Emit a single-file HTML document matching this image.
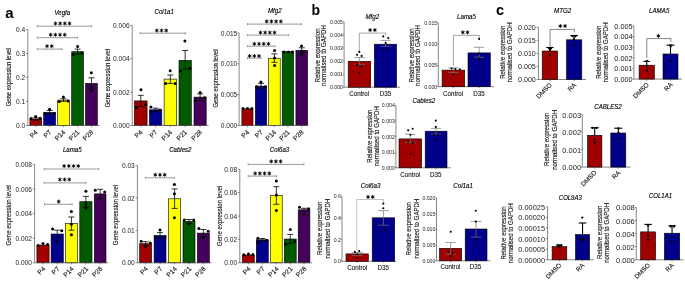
<!DOCTYPE html>
<html><head><meta charset="utf-8"><style>
html,body{margin:0;padding:0;background:#fff;width:685px;height:284px;overflow:hidden}
svg{display:block;will-change:transform}
text{font-family:"Liberation Sans", sans-serif}
</style></head><body>
<svg width="685" height="284" viewBox="0 0 685 284">
<rect width="685" height="284" fill="#fff"/>
<text x="5.3" y="17.8" font-size="15" text-anchor="start" font-weight="bold" font-style="normal" fill="#000">a</text>
<text x="311.6" y="15.4" font-size="14" text-anchor="start" font-weight="bold" font-style="normal" fill="#000">b</text>
<text x="496.1" y="14.7" font-size="14.5" text-anchor="start" font-weight="bold" font-style="normal" fill="#000">c</text>
<text x="0" y="0" font-size="6.1" text-anchor="middle" font-weight="normal" font-style="italic" fill="#000" transform="translate(62.3 14.5) scale(1 1.12)" stroke="#000" stroke-width="0.12">Vegfa</text>
<text x="0" y="0" font-size="5.9" text-anchor="middle" font-weight="normal" font-style="normal" fill="#222" transform="translate(11.2 77.2) rotate(-90) scale(1 1.12)" stroke="#222" stroke-width="0.12">Gene expression level</text>
<line x1="27.8" y1="29.5" x2="27.8" y2="125.5" stroke="#555" stroke-width="0.7"/>
<line x1="26.0" y1="125.5" x2="27.8" y2="125.5" stroke="#555" stroke-width="0.7"/>
<text x="25.2" y="128.14" font-size="6.6" text-anchor="end" font-weight="normal" font-style="normal" fill="#222">0.0</text>
<line x1="26.0" y1="101.5" x2="27.8" y2="101.5" stroke="#555" stroke-width="0.7"/>
<text x="25.2" y="104.14" font-size="6.6" text-anchor="end" font-weight="normal" font-style="normal" fill="#222">0.1</text>
<line x1="26.0" y1="77.5" x2="27.8" y2="77.5" stroke="#555" stroke-width="0.7"/>
<text x="25.2" y="80.14" font-size="6.6" text-anchor="end" font-weight="normal" font-style="normal" fill="#222">0.2</text>
<line x1="26.0" y1="53.5" x2="27.8" y2="53.5" stroke="#555" stroke-width="0.7"/>
<text x="25.2" y="56.14" font-size="6.6" text-anchor="end" font-weight="normal" font-style="normal" fill="#222">0.3</text>
<line x1="26.0" y1="29.5" x2="27.8" y2="29.5" stroke="#555" stroke-width="0.7"/>
<text x="25.2" y="32.14" font-size="6.6" text-anchor="end" font-weight="normal" font-style="normal" fill="#222">0.4</text>
<rect x="29.9" y="119.0" width="11.8" height="6.5" fill="#a00000" stroke="#000" stroke-width="0.6"/>
<line x1="35.8" y1="117.8" x2="35.8" y2="120.2" stroke="#000" stroke-width="0.8"/>
<line x1="32.8" y1="117.8" x2="38.8" y2="117.8" stroke="#000" stroke-width="0.8"/>
<line x1="32.8" y1="120.2" x2="38.8" y2="120.2" stroke="#000" stroke-width="0.8"/>
<circle cx="31.1" cy="118.5" r="1.5" fill="#000"/>
<circle cx="35.6" cy="116.5" r="1.5" fill="#000"/>
<circle cx="40.2" cy="118.3" r="1.5" fill="#000"/>
<rect x="43.7" y="112.4" width="11.9" height="13.1" fill="#00008b" stroke="#000" stroke-width="0.6"/>
<line x1="49.65" y1="110.5" x2="49.65" y2="114.3" stroke="#000" stroke-width="0.8"/>
<line x1="46.65" y1="110.5" x2="52.65" y2="110.5" stroke="#000" stroke-width="0.8"/>
<line x1="46.65" y1="114.3" x2="52.65" y2="114.3" stroke="#000" stroke-width="0.8"/>
<circle cx="45.2" cy="113.5" r="1.5" fill="#000"/>
<circle cx="49.6" cy="109.3" r="1.5" fill="#000"/>
<circle cx="54.2" cy="113.5" r="1.5" fill="#000"/>
<rect x="57.7" y="100.1" width="11.6" height="25.4" fill="#ffff00" stroke="#000" stroke-width="0.6"/>
<line x1="63.5" y1="98.8" x2="63.5" y2="101.4" stroke="#000" stroke-width="0.8"/>
<line x1="60.5" y1="98.8" x2="66.5" y2="98.8" stroke="#000" stroke-width="0.8"/>
<line x1="60.5" y1="101.4" x2="66.5" y2="101.4" stroke="#000" stroke-width="0.8"/>
<circle cx="59.3" cy="101.4" r="1.5" fill="#000"/>
<circle cx="63.4" cy="97.1" r="1.5" fill="#000"/>
<circle cx="68.0" cy="101.1" r="1.5" fill="#000"/>
<rect x="71.7" y="51.7" width="11.8" height="73.8" fill="#005a00" stroke="#000" stroke-width="0.6"/>
<line x1="77.6" y1="49.1" x2="77.6" y2="54.3" stroke="#000" stroke-width="0.8"/>
<line x1="74.6" y1="49.1" x2="80.6" y2="49.1" stroke="#000" stroke-width="0.8"/>
<line x1="74.6" y1="54.3" x2="80.6" y2="54.3" stroke="#000" stroke-width="0.8"/>
<circle cx="73.3" cy="54.5" r="1.5" fill="#000"/>
<circle cx="77.6" cy="46.6" r="1.5" fill="#000"/>
<circle cx="81.9" cy="53.0" r="1.5" fill="#000"/>
<rect x="85.5" y="83.4" width="11.9" height="42.1" fill="#44005a" stroke="#000" stroke-width="0.6"/>
<line x1="91.45" y1="77.8" x2="91.45" y2="89.0" stroke="#000" stroke-width="0.8"/>
<line x1="88.45" y1="77.8" x2="94.45" y2="77.8" stroke="#000" stroke-width="0.8"/>
<line x1="88.45" y1="89.0" x2="94.45" y2="89.0" stroke="#000" stroke-width="0.8"/>
<circle cx="91.3" cy="72.7" r="1.5" fill="#000"/>
<circle cx="91.5" cy="86.4" r="1.5" fill="#000"/>
<circle cx="91.5" cy="91.0" r="1.5" fill="#000"/>
<line x1="27.8" y1="125.5" x2="99.4" y2="125.5" stroke="#555" stroke-width="0.7"/>
<line x1="35.8" y1="125.5" x2="35.8" y2="127.1" stroke="#555" stroke-width="0.7"/>
<line x1="49.65" y1="125.5" x2="49.65" y2="127.1" stroke="#555" stroke-width="0.7"/>
<line x1="63.5" y1="125.5" x2="63.5" y2="127.1" stroke="#555" stroke-width="0.7"/>
<line x1="77.6" y1="125.5" x2="77.6" y2="127.1" stroke="#555" stroke-width="0.7"/>
<line x1="91.45" y1="125.5" x2="91.45" y2="127.1" stroke="#555" stroke-width="0.7"/>
<text x="38.1" y="132.6" font-size="6.6" text-anchor="end" font-weight="normal" font-style="normal" fill="#222" transform="rotate(-45 38.1 132.6)" stroke="#222" stroke-width="0.15">P4</text>
<text x="51.95" y="132.6" font-size="6.6" text-anchor="end" font-weight="normal" font-style="normal" fill="#222" transform="rotate(-45 51.95 132.6)" stroke="#222" stroke-width="0.15">P7</text>
<text x="65.8" y="132.6" font-size="6.6" text-anchor="end" font-weight="normal" font-style="normal" fill="#222" transform="rotate(-45 65.8 132.6)" stroke="#222" stroke-width="0.15">P14</text>
<text x="79.9" y="132.6" font-size="6.6" text-anchor="end" font-weight="normal" font-style="normal" fill="#222" transform="rotate(-45 79.9 132.6)" stroke="#222" stroke-width="0.15">P21</text>
<text x="93.75" y="132.6" font-size="6.6" text-anchor="end" font-weight="normal" font-style="normal" fill="#222" transform="rotate(-45 93.75 132.6)" stroke="#222" stroke-width="0.15">P28</text>
<line x1="37.3" y1="26.2" x2="91.6" y2="26.2" stroke="#808080" stroke-width="0.8"/>
<line x1="37.3" y1="25.2" x2="37.3" y2="27.2" stroke="#808080" stroke-width="0.8"/>
<line x1="91.6" y1="25.2" x2="91.6" y2="27.2" stroke="#808080" stroke-width="0.8"/>
<path d="M55.45 21.85L55.45 25.15M54.02 22.68L56.88 24.32M54.02 24.32L56.88 22.68" stroke="#111" stroke-width="0.85" stroke-linecap="round" fill="none"/>
<circle cx="55.45" cy="23.5" r="1.0" fill="#000"/>
<path d="M60.15 21.85L60.15 25.15M58.72 22.68L61.58 24.32M58.72 24.32L61.58 22.68" stroke="#111" stroke-width="0.85" stroke-linecap="round" fill="none"/>
<circle cx="60.15" cy="23.5" r="1.0" fill="#000"/>
<path d="M64.85 21.85L64.85 25.15M63.42 22.68L66.28 24.32M63.42 24.32L66.28 22.68" stroke="#111" stroke-width="0.85" stroke-linecap="round" fill="none"/>
<circle cx="64.85" cy="23.5" r="1.0" fill="#000"/>
<path d="M69.55 21.85L69.55 25.15M68.12 22.68L70.98 24.32M68.12 24.32L70.98 22.68" stroke="#111" stroke-width="0.85" stroke-linecap="round" fill="none"/>
<circle cx="69.55" cy="23.5" r="1.0" fill="#000"/>
<line x1="37.3" y1="37.7" x2="77.5" y2="37.7" stroke="#808080" stroke-width="0.8"/>
<line x1="37.3" y1="36.7" x2="37.3" y2="38.7" stroke="#808080" stroke-width="0.8"/>
<line x1="77.5" y1="36.7" x2="77.5" y2="38.7" stroke="#808080" stroke-width="0.8"/>
<path d="M50.65 33.05L50.65 36.35M49.22 33.88L52.08 35.53M49.22 35.53L52.08 33.88" stroke="#111" stroke-width="0.85" stroke-linecap="round" fill="none"/>
<circle cx="50.65" cy="34.7" r="1.0" fill="#000"/>
<path d="M55.35 33.05L55.35 36.35M53.92 33.88L56.78 35.53M53.92 35.53L56.78 33.88" stroke="#111" stroke-width="0.85" stroke-linecap="round" fill="none"/>
<circle cx="55.35" cy="34.7" r="1.0" fill="#000"/>
<path d="M60.05 33.05L60.05 36.35M58.62 33.88L61.48 35.53M58.62 35.53L61.48 33.88" stroke="#111" stroke-width="0.85" stroke-linecap="round" fill="none"/>
<circle cx="60.05" cy="34.7" r="1.0" fill="#000"/>
<path d="M64.75 33.05L64.75 36.35M63.32 33.88L66.18 35.53M63.32 35.53L66.18 33.88" stroke="#111" stroke-width="0.85" stroke-linecap="round" fill="none"/>
<circle cx="64.75" cy="34.7" r="1.0" fill="#000"/>
<line x1="37.3" y1="49.1" x2="62.1" y2="49.1" stroke="#808080" stroke-width="0.8"/>
<line x1="37.3" y1="48.1" x2="37.3" y2="50.1" stroke="#808080" stroke-width="0.8"/>
<line x1="62.1" y1="48.1" x2="62.1" y2="50.1" stroke="#808080" stroke-width="0.8"/>
<path d="M47.05 44.55L47.05 47.85M45.62 45.38L48.48 47.03M45.62 47.03L48.48 45.38" stroke="#111" stroke-width="0.85" stroke-linecap="round" fill="none"/>
<circle cx="47.05" cy="46.2" r="1.0" fill="#000"/>
<path d="M51.75 44.55L51.75 47.85M50.32 45.38L53.18 47.03M50.32 47.03L53.18 45.38" stroke="#111" stroke-width="0.85" stroke-linecap="round" fill="none"/>
<circle cx="51.75" cy="46.2" r="1.0" fill="#000"/>
<text x="0" y="0" font-size="6.1" text-anchor="middle" font-weight="normal" font-style="italic" fill="#000" transform="translate(164.2 13.8) scale(1 1.12)" stroke="#000" stroke-width="0.12">Col1a1</text>
<text x="0" y="0" font-size="5.9" text-anchor="middle" font-weight="normal" font-style="normal" fill="#222" transform="translate(109.7 78.1) rotate(-90) scale(1 1.12)" stroke="#222" stroke-width="0.12">Gene expression level</text>
<line x1="132.2" y1="25.3" x2="132.2" y2="125.5" stroke="#555" stroke-width="0.7"/>
<line x1="130.4" y1="125.5" x2="132.2" y2="125.5" stroke="#555" stroke-width="0.7"/>
<text x="129.6" y="128.14" font-size="6.6" text-anchor="end" font-weight="normal" font-style="normal" fill="#222">0.000</text>
<line x1="130.4" y1="92.1" x2="132.2" y2="92.1" stroke="#555" stroke-width="0.7"/>
<text x="129.6" y="94.74" font-size="6.6" text-anchor="end" font-weight="normal" font-style="normal" fill="#222">0.002</text>
<line x1="130.4" y1="58.7" x2="132.2" y2="58.7" stroke="#555" stroke-width="0.7"/>
<text x="129.6" y="61.34" font-size="6.6" text-anchor="end" font-weight="normal" font-style="normal" fill="#222">0.004</text>
<line x1="130.4" y1="25.3" x2="132.2" y2="25.3" stroke="#555" stroke-width="0.7"/>
<text x="129.6" y="27.94" font-size="6.6" text-anchor="end" font-weight="normal" font-style="normal" fill="#222">0.006</text>
<rect x="134.4" y="100.9" width="12.7" height="24.6" fill="#a00000" stroke="#000" stroke-width="0.6"/>
<line x1="140.75" y1="95.3" x2="140.75" y2="106.5" stroke="#000" stroke-width="0.8"/>
<line x1="137.75" y1="95.3" x2="143.75" y2="95.3" stroke="#000" stroke-width="0.8"/>
<line x1="137.75" y1="106.5" x2="143.75" y2="106.5" stroke="#000" stroke-width="0.8"/>
<circle cx="141" cy="89.8" r="1.5" fill="#000"/>
<circle cx="136.2" cy="107.5" r="1.5" fill="#000"/>
<circle cx="145.5" cy="104.7" r="1.5" fill="#000"/>
<rect x="149.4" y="109.8" width="12.4" height="15.7" fill="#00008b" stroke="#000" stroke-width="0.6"/>
<line x1="155.6" y1="108.2" x2="155.6" y2="111.4" stroke="#000" stroke-width="0.8"/>
<line x1="152.6" y1="108.2" x2="158.6" y2="108.2" stroke="#000" stroke-width="0.8"/>
<line x1="152.6" y1="111.4" x2="158.6" y2="111.4" stroke="#000" stroke-width="0.8"/>
<circle cx="150.9" cy="107" r="1.5" fill="#000"/>
<circle cx="151.1" cy="111.8" r="1.5" fill="#000"/>
<circle cx="160" cy="110" r="1.5" fill="#000"/>
<rect x="164.1" y="79.1" width="12.5" height="46.4" fill="#ffff00" stroke="#000" stroke-width="0.6"/>
<line x1="170.35" y1="75" x2="170.35" y2="83.4" stroke="#000" stroke-width="0.8"/>
<line x1="167.35" y1="75" x2="173.35" y2="75" stroke="#000" stroke-width="0.8"/>
<line x1="167.35" y1="83.4" x2="173.35" y2="83.4" stroke="#000" stroke-width="0.8"/>
<circle cx="170.2" cy="70.7" r="1.5" fill="#000"/>
<circle cx="165.6" cy="83.4" r="1.5" fill="#000"/>
<circle cx="175.2" cy="83.4" r="1.5" fill="#000"/>
<rect x="179.0" y="60.3" width="12.3" height="65.2" fill="#005a00" stroke="#000" stroke-width="0.6"/>
<line x1="185.15" y1="50.5" x2="185.15" y2="69.2" stroke="#000" stroke-width="0.8"/>
<line x1="182.15" y1="50.5" x2="188.15" y2="50.5" stroke="#000" stroke-width="0.8"/>
<line x1="182.15" y1="69.2" x2="188.15" y2="69.2" stroke="#000" stroke-width="0.8"/>
<circle cx="184.9" cy="41.1" r="1.5" fill="#000"/>
<circle cx="180.3" cy="71" r="1.5" fill="#000"/>
<circle cx="190" cy="68.4" r="1.5" fill="#000"/>
<rect x="194.0" y="97.1" width="12.2" height="28.4" fill="#44005a" stroke="#000" stroke-width="0.6"/>
<line x1="200.1" y1="93.8" x2="200.1" y2="100.4" stroke="#000" stroke-width="0.8"/>
<line x1="197.1" y1="93.8" x2="203.1" y2="93.8" stroke="#000" stroke-width="0.8"/>
<line x1="197.1" y1="100.4" x2="203.1" y2="100.4" stroke="#000" stroke-width="0.8"/>
<circle cx="200.1" cy="92.5" r="1.5" fill="#000"/>
<circle cx="195.3" cy="100.4" r="1.5" fill="#000"/>
<circle cx="204.7" cy="97.8" r="1.5" fill="#000"/>
<line x1="132.2" y1="125.5" x2="208.5" y2="125.5" stroke="#555" stroke-width="0.7"/>
<line x1="140.75" y1="125.5" x2="140.75" y2="127.1" stroke="#555" stroke-width="0.7"/>
<line x1="155.6" y1="125.5" x2="155.6" y2="127.1" stroke="#555" stroke-width="0.7"/>
<line x1="170.35" y1="125.5" x2="170.35" y2="127.1" stroke="#555" stroke-width="0.7"/>
<line x1="185.15" y1="125.5" x2="185.15" y2="127.1" stroke="#555" stroke-width="0.7"/>
<line x1="200.1" y1="125.5" x2="200.1" y2="127.1" stroke="#555" stroke-width="0.7"/>
<text x="143.05" y="132.6" font-size="6.6" text-anchor="end" font-weight="normal" font-style="normal" fill="#222" transform="rotate(-45 143.05 132.6)" stroke="#222" stroke-width="0.15">P4</text>
<text x="157.9" y="132.6" font-size="6.6" text-anchor="end" font-weight="normal" font-style="normal" fill="#222" transform="rotate(-45 157.9 132.6)" stroke="#222" stroke-width="0.15">P7</text>
<text x="172.65" y="132.6" font-size="6.6" text-anchor="end" font-weight="normal" font-style="normal" fill="#222" transform="rotate(-45 172.65 132.6)" stroke="#222" stroke-width="0.15">P14</text>
<text x="187.45" y="132.6" font-size="6.6" text-anchor="end" font-weight="normal" font-style="normal" fill="#222" transform="rotate(-45 187.45 132.6)" stroke="#222" stroke-width="0.15">P21</text>
<text x="202.4" y="132.6" font-size="6.6" text-anchor="end" font-weight="normal" font-style="normal" fill="#222" transform="rotate(-45 202.4 132.6)" stroke="#222" stroke-width="0.15">P28</text>
<line x1="140.2" y1="33.2" x2="185.4" y2="33.2" stroke="#808080" stroke-width="0.8"/>
<line x1="140.2" y1="32.2" x2="140.2" y2="34.2" stroke="#808080" stroke-width="0.8"/>
<line x1="185.4" y1="32.2" x2="185.4" y2="34.2" stroke="#808080" stroke-width="0.8"/>
<path d="M156.8 28.85L156.8 32.15M155.37 29.68L158.23 31.32M155.37 31.32L158.23 29.68" stroke="#111" stroke-width="0.85" stroke-linecap="round" fill="none"/>
<circle cx="156.8" cy="30.5" r="1.0" fill="#000"/>
<path d="M161.5 28.85L161.5 32.15M160.07 29.68L162.93 31.32M160.07 31.32L162.93 29.68" stroke="#111" stroke-width="0.85" stroke-linecap="round" fill="none"/>
<circle cx="161.5" cy="30.5" r="1.0" fill="#000"/>
<path d="M166.2 28.85L166.2 32.15M164.77 29.68L167.63 31.32M164.77 31.32L167.63 29.68" stroke="#111" stroke-width="0.85" stroke-linecap="round" fill="none"/>
<circle cx="166.2" cy="30.5" r="1.0" fill="#000"/>
<text x="0" y="0" font-size="6.1" text-anchor="middle" font-weight="normal" font-style="italic" fill="#000" transform="translate(274.8 12.6) scale(1 1.12)" stroke="#000" stroke-width="0.12">Mfg2</text>
<text x="0" y="0" font-size="5.9" text-anchor="middle" font-weight="normal" font-style="normal" fill="#222" transform="translate(217.7 78.5) rotate(-90) scale(1 1.12)" stroke="#222" stroke-width="0.12">Gene expression level</text>
<line x1="239.1" y1="32.95" x2="239.1" y2="125.5" stroke="#555" stroke-width="0.7"/>
<line x1="237.3" y1="125.5" x2="239.1" y2="125.5" stroke="#555" stroke-width="0.7"/>
<text x="237.3" y="128.14" font-size="6.6" text-anchor="end" font-weight="normal" font-style="normal" fill="#222">0.000</text>
<line x1="237.3" y1="94.65" x2="239.1" y2="94.65" stroke="#555" stroke-width="0.7"/>
<text x="237.3" y="97.29" font-size="6.6" text-anchor="end" font-weight="normal" font-style="normal" fill="#222">0.005</text>
<line x1="237.3" y1="63.8" x2="239.1" y2="63.8" stroke="#555" stroke-width="0.7"/>
<text x="237.3" y="66.44" font-size="6.6" text-anchor="end" font-weight="normal" font-style="normal" fill="#222">0.010</text>
<line x1="237.3" y1="32.95" x2="239.1" y2="32.95" stroke="#555" stroke-width="0.7"/>
<text x="237.3" y="35.59" font-size="6.6" text-anchor="end" font-weight="normal" font-style="normal" fill="#222">0.015</text>
<rect x="241.9" y="108.9" width="11.1" height="16.6" fill="#a00000" stroke="#000" stroke-width="0.6"/>
<circle cx="243.1" cy="108.4" r="1.5" fill="#000"/>
<circle cx="247.5" cy="108.4" r="1.5" fill="#000"/>
<circle cx="251.8" cy="108.4" r="1.5" fill="#000"/>
<rect x="255.3" y="86.1" width="11.4" height="39.4" fill="#00008b" stroke="#000" stroke-width="0.6"/>
<line x1="261.0" y1="83.3" x2="261.0" y2="88.9" stroke="#000" stroke-width="0.8"/>
<line x1="258.0" y1="83.3" x2="264.0" y2="83.3" stroke="#000" stroke-width="0.8"/>
<line x1="258.0" y1="88.9" x2="264.0" y2="88.9" stroke="#000" stroke-width="0.8"/>
<circle cx="256.6" cy="86.8" r="1.5" fill="#000"/>
<circle cx="265.2" cy="86.8" r="1.5" fill="#000"/>
<circle cx="260.9" cy="82" r="1.5" fill="#000"/>
<rect x="268.5" y="58.2" width="11.7" height="67.3" fill="#ffff00" stroke="#000" stroke-width="0.6"/>
<line x1="274.35" y1="53.9" x2="274.35" y2="62.3" stroke="#000" stroke-width="0.8"/>
<line x1="271.35" y1="53.9" x2="277.35" y2="53.9" stroke="#000" stroke-width="0.8"/>
<line x1="271.35" y1="62.3" x2="277.35" y2="62.3" stroke="#000" stroke-width="0.8"/>
<circle cx="274.6" cy="50.6" r="1.5" fill="#000"/>
<circle cx="274.6" cy="58" r="1.5" fill="#000"/>
<circle cx="274.6" cy="65.6" r="1.5" fill="#000"/>
<rect x="282.2" y="51.6" width="11.4" height="73.9" fill="#005a00" stroke="#000" stroke-width="0.6"/>
<circle cx="284" cy="51.9" r="1.5" fill="#000"/>
<circle cx="288.3" cy="51.9" r="1.5" fill="#000"/>
<circle cx="292.4" cy="51.9" r="1.5" fill="#000"/>
<rect x="295.9" y="50.3" width="11.7" height="75.2" fill="#44005a" stroke="#000" stroke-width="0.6"/>
<line x1="301.75" y1="47.8" x2="301.75" y2="52.8" stroke="#000" stroke-width="0.8"/>
<line x1="298.75" y1="47.8" x2="304.75" y2="47.8" stroke="#000" stroke-width="0.8"/>
<line x1="298.75" y1="52.8" x2="304.75" y2="52.8" stroke="#000" stroke-width="0.8"/>
<circle cx="301.5" cy="46" r="1.5" fill="#000"/>
<circle cx="301.5" cy="51.1" r="1.5" fill="#000"/>
<circle cx="301.5" cy="54.1" r="1.5" fill="#000"/>
<line x1="239.1" y1="125.5" x2="308.5" y2="125.5" stroke="#555" stroke-width="0.7"/>
<line x1="247.45" y1="125.5" x2="247.45" y2="127.1" stroke="#555" stroke-width="0.7"/>
<line x1="261.0" y1="125.5" x2="261.0" y2="127.1" stroke="#555" stroke-width="0.7"/>
<line x1="274.35" y1="125.5" x2="274.35" y2="127.1" stroke="#555" stroke-width="0.7"/>
<line x1="287.9" y1="125.5" x2="287.9" y2="127.1" stroke="#555" stroke-width="0.7"/>
<line x1="301.75" y1="125.5" x2="301.75" y2="127.1" stroke="#555" stroke-width="0.7"/>
<text x="249.75" y="132.6" font-size="6.6" text-anchor="end" font-weight="normal" font-style="normal" fill="#222" transform="rotate(-45 249.75 132.6)" stroke="#222" stroke-width="0.15">P4</text>
<text x="263.3" y="132.6" font-size="6.6" text-anchor="end" font-weight="normal" font-style="normal" fill="#222" transform="rotate(-45 263.3 132.6)" stroke="#222" stroke-width="0.15">P7</text>
<text x="276.65" y="132.6" font-size="6.6" text-anchor="end" font-weight="normal" font-style="normal" fill="#222" transform="rotate(-45 276.65 132.6)" stroke="#222" stroke-width="0.15">P14</text>
<text x="290.2" y="132.6" font-size="6.6" text-anchor="end" font-weight="normal" font-style="normal" fill="#222" transform="rotate(-45 290.2 132.6)" stroke="#222" stroke-width="0.15">P21</text>
<text x="304.05" y="132.6" font-size="6.6" text-anchor="end" font-weight="normal" font-style="normal" fill="#222" transform="rotate(-45 304.05 132.6)" stroke="#222" stroke-width="0.15">P28</text>
<line x1="247.5" y1="24.1" x2="301.5" y2="24.1" stroke="#808080" stroke-width="0.8"/>
<line x1="247.5" y1="23.1" x2="247.5" y2="25.1" stroke="#808080" stroke-width="0.8"/>
<line x1="301.5" y1="23.1" x2="301.5" y2="25.1" stroke="#808080" stroke-width="0.8"/>
<path d="M266.75 19.75L266.75 23.05M265.32 20.58L268.18 22.23M265.32 22.23L268.18 20.58" stroke="#111" stroke-width="0.85" stroke-linecap="round" fill="none"/>
<circle cx="266.75" cy="21.4" r="1.0" fill="#000"/>
<path d="M271.45 19.75L271.45 23.05M270.02 20.58L272.88 22.23M270.02 22.23L272.88 20.58" stroke="#111" stroke-width="0.85" stroke-linecap="round" fill="none"/>
<circle cx="271.45" cy="21.4" r="1.0" fill="#000"/>
<path d="M276.15 19.75L276.15 23.05M274.72 20.58L277.58 22.23M274.72 22.23L277.58 20.58" stroke="#111" stroke-width="0.85" stroke-linecap="round" fill="none"/>
<circle cx="276.15" cy="21.4" r="1.0" fill="#000"/>
<path d="M280.85 19.75L280.85 23.05M279.42 20.58L282.28 22.23M279.42 22.23L282.28 20.58" stroke="#111" stroke-width="0.85" stroke-linecap="round" fill="none"/>
<circle cx="280.85" cy="21.4" r="1.0" fill="#000"/>
<line x1="247.5" y1="35.1" x2="288.6" y2="35.1" stroke="#808080" stroke-width="0.8"/>
<line x1="247.5" y1="34.1" x2="247.5" y2="36.1" stroke="#808080" stroke-width="0.8"/>
<line x1="288.6" y1="34.1" x2="288.6" y2="36.1" stroke="#808080" stroke-width="0.8"/>
<path d="M260.45 30.95L260.45 34.25M259.02 31.78L261.88 33.43M259.02 33.43L261.88 31.78" stroke="#111" stroke-width="0.85" stroke-linecap="round" fill="none"/>
<circle cx="260.45" cy="32.6" r="1.0" fill="#000"/>
<path d="M265.15 30.95L265.15 34.25M263.72 31.78L266.58 33.43M263.72 33.43L266.58 31.78" stroke="#111" stroke-width="0.85" stroke-linecap="round" fill="none"/>
<circle cx="265.15" cy="32.6" r="1.0" fill="#000"/>
<path d="M269.85 30.95L269.85 34.25M268.42 31.78L271.28 33.43M268.42 33.43L271.28 31.78" stroke="#111" stroke-width="0.85" stroke-linecap="round" fill="none"/>
<circle cx="269.85" cy="32.6" r="1.0" fill="#000"/>
<path d="M274.55 30.95L274.55 34.25M273.12 31.78L275.98 33.43M273.12 33.43L275.98 31.78" stroke="#111" stroke-width="0.85" stroke-linecap="round" fill="none"/>
<circle cx="274.55" cy="32.6" r="1.0" fill="#000"/>
<line x1="247.5" y1="46.2" x2="274.9" y2="46.2" stroke="#808080" stroke-width="0.8"/>
<line x1="247.5" y1="45.2" x2="247.5" y2="47.2" stroke="#808080" stroke-width="0.8"/>
<line x1="274.9" y1="45.2" x2="274.9" y2="47.2" stroke="#808080" stroke-width="0.8"/>
<path d="M254.35 42.15L254.35 45.45M252.92 42.98L255.78 44.63M252.92 44.63L255.78 42.98" stroke="#111" stroke-width="0.85" stroke-linecap="round" fill="none"/>
<circle cx="254.35" cy="43.8" r="1.0" fill="#000"/>
<path d="M259.05 42.15L259.05 45.45M257.62 42.98L260.48 44.63M257.62 44.63L260.48 42.98" stroke="#111" stroke-width="0.85" stroke-linecap="round" fill="none"/>
<circle cx="259.05" cy="43.8" r="1.0" fill="#000"/>
<path d="M263.75 42.15L263.75 45.45M262.32 42.98L265.18 44.63M262.32 44.63L265.18 42.98" stroke="#111" stroke-width="0.85" stroke-linecap="round" fill="none"/>
<circle cx="263.75" cy="43.8" r="1.0" fill="#000"/>
<path d="M268.45 42.15L268.45 45.45M267.02 42.98L269.88 44.63M267.02 44.63L269.88 42.98" stroke="#111" stroke-width="0.85" stroke-linecap="round" fill="none"/>
<circle cx="268.45" cy="43.8" r="1.0" fill="#000"/>
<line x1="247.5" y1="58.2" x2="260.9" y2="58.2" stroke="#808080" stroke-width="0.8"/>
<line x1="247.5" y1="57.2" x2="247.5" y2="59.2" stroke="#808080" stroke-width="0.8"/>
<line x1="260.9" y1="57.2" x2="260.9" y2="59.2" stroke="#808080" stroke-width="0.8"/>
<path d="M249.6 54.35L249.6 57.65M248.17 55.17L251.03 56.83M248.17 56.83L251.03 55.17" stroke="#111" stroke-width="0.85" stroke-linecap="round" fill="none"/>
<circle cx="249.6" cy="56.0" r="1.0" fill="#000"/>
<path d="M254.3 54.35L254.3 57.65M252.87 55.17L255.73 56.83M252.87 56.83L255.73 55.17" stroke="#111" stroke-width="0.85" stroke-linecap="round" fill="none"/>
<circle cx="254.3" cy="56.0" r="1.0" fill="#000"/>
<path d="M259.0 54.35L259.0 57.65M257.57 55.17L260.43 56.83M257.57 56.83L260.43 55.17" stroke="#111" stroke-width="0.85" stroke-linecap="round" fill="none"/>
<circle cx="259.0" cy="56.0" r="1.0" fill="#000"/>
<text x="0" y="0" font-size="6.1" text-anchor="middle" font-weight="normal" font-style="italic" fill="#000" transform="translate(72.2 152) scale(1 1.12)" stroke="#000" stroke-width="0.12">Lama5</text>
<text x="0" y="0" font-size="6.1" text-anchor="middle" font-weight="normal" font-style="normal" fill="#222" transform="translate(11.2 215.25) rotate(-90) scale(1 1.12)" stroke="#222" stroke-width="0.12">Gene expression level</text>
<line x1="34.6" y1="164.4" x2="34.6" y2="262.8" stroke="#555" stroke-width="0.7"/>
<line x1="32.8" y1="262.8" x2="34.6" y2="262.8" stroke="#555" stroke-width="0.7"/>
<text x="32.0" y="265.44" font-size="6.6" text-anchor="end" font-weight="normal" font-style="normal" fill="#222">0.000</text>
<line x1="32.8" y1="238.2" x2="34.6" y2="238.2" stroke="#555" stroke-width="0.7"/>
<text x="32.0" y="240.84" font-size="6.6" text-anchor="end" font-weight="normal" font-style="normal" fill="#222">0.002</text>
<line x1="32.8" y1="213.6" x2="34.6" y2="213.6" stroke="#555" stroke-width="0.7"/>
<text x="32.0" y="216.24" font-size="6.6" text-anchor="end" font-weight="normal" font-style="normal" fill="#222">0.004</text>
<line x1="32.8" y1="189.0" x2="34.6" y2="189.0" stroke="#555" stroke-width="0.7"/>
<text x="32.0" y="191.64" font-size="6.6" text-anchor="end" font-weight="normal" font-style="normal" fill="#222">0.006</text>
<line x1="32.8" y1="164.4" x2="34.6" y2="164.4" stroke="#555" stroke-width="0.7"/>
<text x="32.0" y="167.04" font-size="6.6" text-anchor="end" font-weight="normal" font-style="normal" fill="#222">0.008</text>
<rect x="36.9" y="245.1" width="12.2" height="17.7" fill="#a00000" stroke="#000" stroke-width="0.6"/>
<circle cx="38.2" cy="245.4" r="1.5" fill="#000"/>
<circle cx="43" cy="243.4" r="1.5" fill="#000"/>
<circle cx="47.6" cy="244.4" r="1.5" fill="#000"/>
<rect x="51.1" y="234.0" width="12.2" height="28.8" fill="#00008b" stroke="#000" stroke-width="0.6"/>
<line x1="57.2" y1="230.2" x2="57.2" y2="237.8" stroke="#000" stroke-width="0.8"/>
<line x1="54.2" y1="230.2" x2="60.2" y2="230.2" stroke="#000" stroke-width="0.8"/>
<line x1="54.2" y1="237.8" x2="60.2" y2="237.8" stroke="#000" stroke-width="0.8"/>
<circle cx="52.6" cy="228.9" r="1.5" fill="#000"/>
<circle cx="61.8" cy="230.7" r="1.5" fill="#000"/>
<circle cx="57" cy="241.8" r="1.5" fill="#000"/>
<rect x="65.3" y="223.6" width="12.2" height="39.2" fill="#ffff00" stroke="#000" stroke-width="0.6"/>
<line x1="71.4" y1="217" x2="71.4" y2="230.2" stroke="#000" stroke-width="0.8"/>
<line x1="68.4" y1="217" x2="74.4" y2="217" stroke="#000" stroke-width="0.8"/>
<line x1="68.4" y1="230.2" x2="74.4" y2="230.2" stroke="#000" stroke-width="0.8"/>
<circle cx="71.4" cy="211.6" r="1.5" fill="#000"/>
<circle cx="71.4" cy="224.3" r="1.5" fill="#000"/>
<circle cx="71.4" cy="234.7" r="1.5" fill="#000"/>
<rect x="79.8" y="201.7" width="12.2" height="61.1" fill="#005a00" stroke="#000" stroke-width="0.6"/>
<line x1="85.9" y1="196.4" x2="85.9" y2="207.0" stroke="#000" stroke-width="0.8"/>
<line x1="82.9" y1="196.4" x2="88.9" y2="196.4" stroke="#000" stroke-width="0.8"/>
<line x1="82.9" y1="207.0" x2="88.9" y2="207.0" stroke="#000" stroke-width="0.8"/>
<circle cx="85.9" cy="191.3" r="1.5" fill="#000"/>
<circle cx="85.9" cy="204.5" r="1.5" fill="#000"/>
<circle cx="85.9" cy="208.3" r="1.5" fill="#000"/>
<rect x="94.3" y="193.9" width="11.7" height="68.9" fill="#44005a" stroke="#000" stroke-width="0.6"/>
<line x1="100.15" y1="189.3" x2="100.15" y2="198.5" stroke="#000" stroke-width="0.8"/>
<line x1="97.15" y1="189.3" x2="103.15" y2="189.3" stroke="#000" stroke-width="0.8"/>
<line x1="97.15" y1="198.5" x2="103.15" y2="198.5" stroke="#000" stroke-width="0.8"/>
<circle cx="95.3" cy="190.3" r="1.5" fill="#000"/>
<circle cx="104.7" cy="192.1" r="1.5" fill="#000"/>
<circle cx="100.1" cy="197.9" r="1.5" fill="#000"/>
<line x1="34.6" y1="262.8" x2="108.3" y2="262.8" stroke="#555" stroke-width="0.7"/>
<line x1="43.0" y1="262.8" x2="43.0" y2="264.4" stroke="#555" stroke-width="0.7"/>
<line x1="57.2" y1="262.8" x2="57.2" y2="264.4" stroke="#555" stroke-width="0.7"/>
<line x1="71.4" y1="262.8" x2="71.4" y2="264.4" stroke="#555" stroke-width="0.7"/>
<line x1="85.9" y1="262.8" x2="85.9" y2="264.4" stroke="#555" stroke-width="0.7"/>
<line x1="100.15" y1="262.8" x2="100.15" y2="264.4" stroke="#555" stroke-width="0.7"/>
<text x="45.8" y="269.2" font-size="6.6" text-anchor="end" font-weight="normal" font-style="normal" fill="#222" transform="rotate(-45 45.8 269.2)" stroke="#222" stroke-width="0.15">P4</text>
<text x="60.0" y="269.2" font-size="6.6" text-anchor="end" font-weight="normal" font-style="normal" fill="#222" transform="rotate(-45 60.0 269.2)" stroke="#222" stroke-width="0.15">P7</text>
<text x="74.2" y="269.2" font-size="6.6" text-anchor="end" font-weight="normal" font-style="normal" fill="#222" transform="rotate(-45 74.2 269.2)" stroke="#222" stroke-width="0.15">P14</text>
<text x="88.7" y="269.2" font-size="6.6" text-anchor="end" font-weight="normal" font-style="normal" fill="#222" transform="rotate(-45 88.7 269.2)" stroke="#222" stroke-width="0.15">P21</text>
<text x="102.95" y="269.2" font-size="6.6" text-anchor="end" font-weight="normal" font-style="normal" fill="#222" transform="rotate(-45 102.95 269.2)" stroke="#222" stroke-width="0.15">P28</text>
<line x1="44.3" y1="169.0" x2="98.8" y2="169.0" stroke="#808080" stroke-width="0.8"/>
<line x1="44.3" y1="168.0" x2="44.3" y2="170.0" stroke="#808080" stroke-width="0.8"/>
<line x1="98.8" y1="168.0" x2="98.8" y2="170.0" stroke="#808080" stroke-width="0.8"/>
<path d="M64.15 164.35L64.15 167.65M62.72 165.18L65.58 166.82M62.72 166.82L65.58 165.18" stroke="#111" stroke-width="0.85" stroke-linecap="round" fill="none"/>
<circle cx="64.15" cy="166.0" r="1.0" fill="#000"/>
<path d="M68.85 164.35L68.85 167.65M67.42 165.18L70.28 166.82M67.42 166.82L70.28 165.18" stroke="#111" stroke-width="0.85" stroke-linecap="round" fill="none"/>
<circle cx="68.85" cy="166.0" r="1.0" fill="#000"/>
<path d="M73.55 164.35L73.55 167.65M72.12 165.18L74.98 166.82M72.12 166.82L74.98 165.18" stroke="#111" stroke-width="0.85" stroke-linecap="round" fill="none"/>
<circle cx="73.55" cy="166.0" r="1.0" fill="#000"/>
<path d="M78.25 164.35L78.25 167.65M76.82 165.18L79.68 166.82M76.82 166.82L79.68 165.18" stroke="#111" stroke-width="0.85" stroke-linecap="round" fill="none"/>
<circle cx="78.25" cy="166.0" r="1.0" fill="#000"/>
<line x1="44.3" y1="182.9" x2="85.6" y2="182.9" stroke="#808080" stroke-width="0.8"/>
<line x1="44.3" y1="181.9" x2="44.3" y2="183.9" stroke="#808080" stroke-width="0.8"/>
<line x1="85.6" y1="181.9" x2="85.6" y2="183.9" stroke="#808080" stroke-width="0.8"/>
<path d="M59.9 177.85L59.9 181.15M58.47 178.68L61.33 180.32M58.47 180.32L61.33 178.68" stroke="#111" stroke-width="0.85" stroke-linecap="round" fill="none"/>
<circle cx="59.9" cy="179.5" r="1.0" fill="#000"/>
<path d="M64.6 177.85L64.6 181.15M63.17 178.68L66.03 180.32M63.17 180.32L66.03 178.68" stroke="#111" stroke-width="0.85" stroke-linecap="round" fill="none"/>
<circle cx="64.6" cy="179.5" r="1.0" fill="#000"/>
<path d="M69.3 177.85L69.3 181.15M67.87 178.68L70.73 180.32M67.87 180.32L70.73 178.68" stroke="#111" stroke-width="0.85" stroke-linecap="round" fill="none"/>
<circle cx="69.3" cy="179.5" r="1.0" fill="#000"/>
<line x1="44.5" y1="204.3" x2="72.2" y2="204.3" stroke="#808080" stroke-width="0.8"/>
<line x1="44.5" y1="203.3" x2="44.5" y2="205.3" stroke="#808080" stroke-width="0.8"/>
<line x1="72.2" y1="203.3" x2="72.2" y2="205.3" stroke="#808080" stroke-width="0.8"/>
<path d="M58.7 199.95L58.7 203.25M57.27 200.78L60.13 202.42M57.27 202.42L60.13 200.78" stroke="#111" stroke-width="0.85" stroke-linecap="round" fill="none"/>
<circle cx="58.7" cy="201.6" r="1.0" fill="#000"/>
<text x="0" y="0" font-size="6.1" text-anchor="middle" font-weight="normal" font-style="italic" fill="#000" transform="translate(180.3 152) scale(1 1.12)" stroke="#000" stroke-width="0.12">Cables2</text>
<text x="0" y="0" font-size="6.1" text-anchor="middle" font-weight="normal" font-style="normal" fill="#222" transform="translate(117.7 215.1) rotate(-90) scale(1 1.12)" stroke="#222" stroke-width="0.12">Gene expression level</text>
<line x1="137.4" y1="165.6" x2="137.4" y2="262.8" stroke="#555" stroke-width="0.7"/>
<line x1="135.6" y1="262.8" x2="137.4" y2="262.8" stroke="#555" stroke-width="0.7"/>
<text x="134.8" y="265.44" font-size="6.6" text-anchor="end" font-weight="normal" font-style="normal" fill="#222">0.00</text>
<line x1="135.6" y1="230.4" x2="137.4" y2="230.4" stroke="#555" stroke-width="0.7"/>
<text x="134.8" y="233.04" font-size="6.6" text-anchor="end" font-weight="normal" font-style="normal" fill="#222">0.01</text>
<line x1="135.6" y1="198.0" x2="137.4" y2="198.0" stroke="#555" stroke-width="0.7"/>
<text x="134.8" y="200.64" font-size="6.6" text-anchor="end" font-weight="normal" font-style="normal" fill="#222">0.02</text>
<line x1="135.6" y1="165.6" x2="137.4" y2="165.6" stroke="#555" stroke-width="0.7"/>
<text x="134.8" y="168.24" font-size="6.6" text-anchor="end" font-weight="normal" font-style="normal" fill="#222">0.03</text>
<rect x="139.6" y="243.7" width="12.0" height="19.1" fill="#a00000" stroke="#000" stroke-width="0.6"/>
<line x1="145.6" y1="241.7" x2="145.6" y2="245.7" stroke="#000" stroke-width="0.8"/>
<line x1="142.6" y1="241.7" x2="148.6" y2="241.7" stroke="#000" stroke-width="0.8"/>
<line x1="142.6" y1="245.7" x2="148.6" y2="245.7" stroke="#000" stroke-width="0.8"/>
<circle cx="141.2" cy="241.2" r="1.5" fill="#000"/>
<circle cx="150.3" cy="243" r="1.5" fill="#000"/>
<circle cx="145.7" cy="246.5" r="1.5" fill="#000"/>
<rect x="154.1" y="235.4" width="11.9" height="27.4" fill="#00008b" stroke="#000" stroke-width="0.6"/>
<line x1="160.05" y1="232.6" x2="160.05" y2="238.2" stroke="#000" stroke-width="0.8"/>
<line x1="157.05" y1="232.6" x2="163.05" y2="232.6" stroke="#000" stroke-width="0.8"/>
<line x1="157.05" y1="238.2" x2="163.05" y2="238.2" stroke="#000" stroke-width="0.8"/>
<circle cx="160" cy="230" r="1.5" fill="#000"/>
<circle cx="155.6" cy="237.9" r="1.5" fill="#000"/>
<circle cx="164.8" cy="237.6" r="1.5" fill="#000"/>
<rect x="168.5" y="198.8" width="12.2" height="64.0" fill="#ffff00" stroke="#000" stroke-width="0.6"/>
<line x1="174.6" y1="188.9" x2="174.6" y2="208.4" stroke="#000" stroke-width="0.8"/>
<line x1="171.6" y1="188.9" x2="177.6" y2="188.9" stroke="#000" stroke-width="0.8"/>
<line x1="171.6" y1="208.4" x2="177.6" y2="208.4" stroke="#000" stroke-width="0.8"/>
<circle cx="174.4" cy="184.4" r="1.5" fill="#000"/>
<circle cx="174.4" cy="193.8" r="1.5" fill="#000"/>
<circle cx="174.4" cy="217.8" r="1.5" fill="#000"/>
<rect x="183.0" y="221.4" width="12.0" height="41.4" fill="#005a00" stroke="#000" stroke-width="0.6"/>
<line x1="189.0" y1="219.5" x2="189.0" y2="223.3" stroke="#000" stroke-width="0.8"/>
<line x1="186.0" y1="219.5" x2="192.0" y2="219.5" stroke="#000" stroke-width="0.8"/>
<line x1="186.0" y1="223.3" x2="192.0" y2="223.3" stroke="#000" stroke-width="0.8"/>
<circle cx="184.3" cy="219.9" r="1.5" fill="#000"/>
<circle cx="193.7" cy="219.9" r="1.5" fill="#000"/>
<circle cx="188.9" cy="223.9" r="1.5" fill="#000"/>
<rect x="197.3" y="233.1" width="12.1" height="29.7" fill="#44005a" stroke="#000" stroke-width="0.6"/>
<line x1="203.35" y1="229.5" x2="203.35" y2="236.7" stroke="#000" stroke-width="0.8"/>
<line x1="200.35" y1="229.5" x2="206.35" y2="229.5" stroke="#000" stroke-width="0.8"/>
<line x1="200.35" y1="236.7" x2="206.35" y2="236.7" stroke="#000" stroke-width="0.8"/>
<circle cx="198.8" cy="228.5" r="1.5" fill="#000"/>
<circle cx="208.2" cy="231.3" r="1.5" fill="#000"/>
<circle cx="203.4" cy="237.6" r="1.5" fill="#000"/>
<line x1="137.4" y1="262.8" x2="211.5" y2="262.8" stroke="#555" stroke-width="0.7"/>
<line x1="145.6" y1="262.8" x2="145.6" y2="264.4" stroke="#555" stroke-width="0.7"/>
<line x1="160.05" y1="262.8" x2="160.05" y2="264.4" stroke="#555" stroke-width="0.7"/>
<line x1="174.6" y1="262.8" x2="174.6" y2="264.4" stroke="#555" stroke-width="0.7"/>
<line x1="189.0" y1="262.8" x2="189.0" y2="264.4" stroke="#555" stroke-width="0.7"/>
<line x1="203.35" y1="262.8" x2="203.35" y2="264.4" stroke="#555" stroke-width="0.7"/>
<text x="148.4" y="269.2" font-size="6.6" text-anchor="end" font-weight="normal" font-style="normal" fill="#222" transform="rotate(-45 148.4 269.2)" stroke="#222" stroke-width="0.15">P4</text>
<text x="162.85" y="269.2" font-size="6.6" text-anchor="end" font-weight="normal" font-style="normal" fill="#222" transform="rotate(-45 162.85 269.2)" stroke="#222" stroke-width="0.15">P7</text>
<text x="177.4" y="269.2" font-size="6.6" text-anchor="end" font-weight="normal" font-style="normal" fill="#222" transform="rotate(-45 177.4 269.2)" stroke="#222" stroke-width="0.15">P14</text>
<text x="191.8" y="269.2" font-size="6.6" text-anchor="end" font-weight="normal" font-style="normal" fill="#222" transform="rotate(-45 191.8 269.2)" stroke="#222" stroke-width="0.15">P21</text>
<text x="206.15" y="269.2" font-size="6.6" text-anchor="end" font-weight="normal" font-style="normal" fill="#222" transform="rotate(-45 206.15 269.2)" stroke="#222" stroke-width="0.15">P28</text>
<line x1="145.5" y1="177.8" x2="174.4" y2="177.8" stroke="#808080" stroke-width="0.8"/>
<line x1="145.5" y1="176.8" x2="145.5" y2="178.8" stroke="#808080" stroke-width="0.8"/>
<line x1="174.4" y1="176.8" x2="174.4" y2="178.8" stroke="#808080" stroke-width="0.8"/>
<path d="M155.3 173.15L155.3 176.45M153.87 173.97L156.73 175.62M153.87 175.62L156.73 173.97" stroke="#111" stroke-width="0.85" stroke-linecap="round" fill="none"/>
<circle cx="155.3" cy="174.8" r="1.0" fill="#000"/>
<path d="M160.0 173.15L160.0 176.45M158.57 173.97L161.43 175.62M158.57 175.62L161.43 173.97" stroke="#111" stroke-width="0.85" stroke-linecap="round" fill="none"/>
<circle cx="160.0" cy="174.8" r="1.0" fill="#000"/>
<path d="M164.7 173.15L164.7 176.45M163.27 173.97L166.13 175.62M163.27 175.62L166.13 173.97" stroke="#111" stroke-width="0.85" stroke-linecap="round" fill="none"/>
<circle cx="164.7" cy="174.8" r="1.0" fill="#000"/>
<text x="0" y="0" font-size="6.1" text-anchor="middle" font-weight="normal" font-style="italic" fill="#000" transform="translate(279.5 152) scale(1 1.12)" stroke="#000" stroke-width="0.12">Col6a3</text>
<text x="0" y="0" font-size="6.1" text-anchor="middle" font-weight="normal" font-style="normal" fill="#222" transform="translate(221.8 215.9) rotate(-90) scale(1 1.12)" stroke="#222" stroke-width="0.12">Gene expression level</text>
<line x1="239.8" y1="169.2" x2="239.8" y2="262.8" stroke="#555" stroke-width="0.7"/>
<line x1="238.0" y1="262.8" x2="239.8" y2="262.8" stroke="#555" stroke-width="0.7"/>
<text x="237.2" y="265.44" font-size="6.6" text-anchor="end" font-weight="normal" font-style="normal" fill="#222">0.00</text>
<line x1="238.0" y1="239.4" x2="239.8" y2="239.4" stroke="#555" stroke-width="0.7"/>
<text x="237.2" y="242.04" font-size="6.6" text-anchor="end" font-weight="normal" font-style="normal" fill="#222">0.02</text>
<line x1="238.0" y1="216.0" x2="239.8" y2="216.0" stroke="#555" stroke-width="0.7"/>
<text x="237.2" y="218.64" font-size="6.6" text-anchor="end" font-weight="normal" font-style="normal" fill="#222">0.04</text>
<line x1="238.0" y1="192.6" x2="239.8" y2="192.6" stroke="#555" stroke-width="0.7"/>
<text x="237.2" y="195.24" font-size="6.6" text-anchor="end" font-weight="normal" font-style="normal" fill="#222">0.06</text>
<line x1="238.0" y1="169.2" x2="239.8" y2="169.2" stroke="#555" stroke-width="0.7"/>
<text x="237.2" y="171.84" font-size="6.6" text-anchor="end" font-weight="normal" font-style="normal" fill="#222">0.08</text>
<rect x="242.4" y="255.0" width="11.9" height="7.8" fill="#a00000" stroke="#000" stroke-width="0.6"/>
<circle cx="243.9" cy="254.7" r="1.5" fill="#000"/>
<circle cx="248.5" cy="254" r="1.5" fill="#000"/>
<circle cx="252.8" cy="254.5" r="1.5" fill="#000"/>
<rect x="256.3" y="239.8" width="12.0" height="23.0" fill="#00008b" stroke="#000" stroke-width="0.6"/>
<line x1="262.3" y1="238.5" x2="262.3" y2="241.1" stroke="#000" stroke-width="0.8"/>
<line x1="259.3" y1="238.5" x2="265.3" y2="238.5" stroke="#000" stroke-width="0.8"/>
<line x1="259.3" y1="241.1" x2="265.3" y2="241.1" stroke="#000" stroke-width="0.8"/>
<circle cx="257.9" cy="238.2" r="1.5" fill="#000"/>
<circle cx="257.9" cy="242.3" r="1.5" fill="#000"/>
<circle cx="266.7" cy="240.3" r="1.5" fill="#000"/>
<rect x="270.5" y="195.4" width="11.7" height="67.4" fill="#ffff00" stroke="#000" stroke-width="0.6"/>
<line x1="276.35" y1="186.7" x2="276.35" y2="204.3" stroke="#000" stroke-width="0.8"/>
<line x1="273.35" y1="186.7" x2="279.35" y2="186.7" stroke="#000" stroke-width="0.8"/>
<line x1="273.35" y1="204.3" x2="279.35" y2="204.3" stroke="#000" stroke-width="0.8"/>
<circle cx="276.4" cy="180.9" r="1.5" fill="#000"/>
<circle cx="276.4" cy="195.1" r="1.5" fill="#000"/>
<circle cx="276.4" cy="210.6" r="1.5" fill="#000"/>
<rect x="284.3" y="239.0" width="11.9" height="23.8" fill="#005a00" stroke="#000" stroke-width="0.6"/>
<line x1="290.25" y1="234.4" x2="290.25" y2="243.6" stroke="#000" stroke-width="0.8"/>
<line x1="287.25" y1="234.4" x2="293.25" y2="234.4" stroke="#000" stroke-width="0.8"/>
<line x1="287.25" y1="243.6" x2="293.25" y2="243.6" stroke="#000" stroke-width="0.8"/>
<circle cx="290.3" cy="229.6" r="1.5" fill="#000"/>
<circle cx="285.5" cy="244.3" r="1.5" fill="#000"/>
<circle cx="294.7" cy="241.5" r="1.5" fill="#000"/>
<rect x="298.2" y="209.8" width="11.7" height="53.0" fill="#44005a" stroke="#000" stroke-width="0.6"/>
<line x1="304.05" y1="208.3" x2="304.05" y2="211.3" stroke="#000" stroke-width="0.8"/>
<line x1="301.05" y1="208.3" x2="307.05" y2="208.3" stroke="#000" stroke-width="0.8"/>
<line x1="301.05" y1="211.3" x2="307.05" y2="211.3" stroke="#000" stroke-width="0.8"/>
<circle cx="299.5" cy="207.3" r="1.5" fill="#000"/>
<circle cx="308.6" cy="208.8" r="1.5" fill="#000"/>
<circle cx="304" cy="213.9" r="1.5" fill="#000"/>
<line x1="239.8" y1="262.8" x2="312" y2="262.8" stroke="#555" stroke-width="0.7"/>
<line x1="248.35" y1="262.8" x2="248.35" y2="264.4" stroke="#555" stroke-width="0.7"/>
<line x1="262.3" y1="262.8" x2="262.3" y2="264.4" stroke="#555" stroke-width="0.7"/>
<line x1="276.35" y1="262.8" x2="276.35" y2="264.4" stroke="#555" stroke-width="0.7"/>
<line x1="290.25" y1="262.8" x2="290.25" y2="264.4" stroke="#555" stroke-width="0.7"/>
<line x1="304.05" y1="262.8" x2="304.05" y2="264.4" stroke="#555" stroke-width="0.7"/>
<text x="251.15" y="269.2" font-size="6.6" text-anchor="end" font-weight="normal" font-style="normal" fill="#222" transform="rotate(-45 251.15 269.2)" stroke="#222" stroke-width="0.15">P4</text>
<text x="265.1" y="269.2" font-size="6.6" text-anchor="end" font-weight="normal" font-style="normal" fill="#222" transform="rotate(-45 265.1 269.2)" stroke="#222" stroke-width="0.15">P7</text>
<text x="279.15" y="269.2" font-size="6.6" text-anchor="end" font-weight="normal" font-style="normal" fill="#222" transform="rotate(-45 279.15 269.2)" stroke="#222" stroke-width="0.15">P14</text>
<text x="293.05" y="269.2" font-size="6.6" text-anchor="end" font-weight="normal" font-style="normal" fill="#222" transform="rotate(-45 293.05 269.2)" stroke="#222" stroke-width="0.15">P21</text>
<text x="306.85" y="269.2" font-size="6.6" text-anchor="end" font-weight="normal" font-style="normal" fill="#222" transform="rotate(-45 306.85 269.2)" stroke="#222" stroke-width="0.15">P28</text>
<line x1="248.2" y1="164.4" x2="304.0" y2="164.4" stroke="#808080" stroke-width="0.8"/>
<line x1="248.2" y1="163.4" x2="248.2" y2="165.4" stroke="#808080" stroke-width="0.8"/>
<line x1="304.0" y1="163.4" x2="304.0" y2="165.4" stroke="#808080" stroke-width="0.8"/>
<path d="M271.2 159.75L271.2 163.05M269.77 160.58L272.63 162.22M269.77 162.22L272.63 160.58" stroke="#111" stroke-width="0.85" stroke-linecap="round" fill="none"/>
<circle cx="271.2" cy="161.4" r="1.0" fill="#000"/>
<path d="M275.9 159.75L275.9 163.05M274.47 160.58L277.33 162.22M274.47 162.22L277.33 160.58" stroke="#111" stroke-width="0.85" stroke-linecap="round" fill="none"/>
<circle cx="275.9" cy="161.4" r="1.0" fill="#000"/>
<path d="M280.6 159.75L280.6 163.05M279.17 160.58L282.03 162.22M279.17 162.22L282.03 160.58" stroke="#111" stroke-width="0.85" stroke-linecap="round" fill="none"/>
<circle cx="280.6" cy="161.4" r="1.0" fill="#000"/>
<line x1="248.2" y1="176.1" x2="276.6" y2="176.1" stroke="#808080" stroke-width="0.8"/>
<line x1="248.2" y1="175.1" x2="248.2" y2="177.1" stroke="#808080" stroke-width="0.8"/>
<line x1="276.6" y1="175.1" x2="276.6" y2="177.1" stroke="#808080" stroke-width="0.8"/>
<path d="M255.15 171.75L255.15 175.05M253.72 172.58L256.58 174.22M253.72 174.22L256.58 172.58" stroke="#111" stroke-width="0.85" stroke-linecap="round" fill="none"/>
<circle cx="255.15" cy="173.4" r="1.0" fill="#000"/>
<path d="M259.85 171.75L259.85 175.05M258.42 172.58L261.28 174.22M258.42 174.22L261.28 172.58" stroke="#111" stroke-width="0.85" stroke-linecap="round" fill="none"/>
<circle cx="259.85" cy="173.4" r="1.0" fill="#000"/>
<path d="M264.55 171.75L264.55 175.05M263.12 172.58L265.98 174.22M263.12 174.22L265.98 172.58" stroke="#111" stroke-width="0.85" stroke-linecap="round" fill="none"/>
<circle cx="264.55" cy="173.4" r="1.0" fill="#000"/>
<path d="M269.25 171.75L269.25 175.05M267.82 172.58L270.68 174.22M267.82 174.22L270.68 172.58" stroke="#111" stroke-width="0.85" stroke-linecap="round" fill="none"/>
<circle cx="269.25" cy="173.4" r="1.0" fill="#000"/>
<text x="0" y="0" font-size="6.2" text-anchor="middle" font-weight="normal" font-style="italic" fill="#000" transform="translate(372.3 18.6) scale(1 1.12)" stroke="#000" stroke-width="0.12">Mfg2</text>
<text x="0" y="0" font-size="6.2" text-anchor="middle" font-weight="normal" font-style="normal" fill="#222" transform="translate(319.9 55.4) rotate(-90) scale(1 1.12)" stroke="#222" stroke-width="0.12">Relative expression</text>
<text x="0" y="0" font-size="6.2" text-anchor="middle" font-weight="normal" font-style="normal" fill="#222" transform="translate(326.4 55.4) rotate(-90) scale(1 1.12)" stroke="#222" stroke-width="0.12">normalised to GAPDH</text>
<line x1="344.1" y1="21.95" x2="344.1" y2="87.2" stroke="#555" stroke-width="0.7"/>
<line x1="343.0" y1="87.2" x2="344.1" y2="87.2" stroke="#555" stroke-width="0.7"/>
<text x="343.0" y="89.28" font-size="5.2" text-anchor="end" font-weight="normal" font-style="normal" fill="#222">0.000</text>
<line x1="343.0" y1="74.15" x2="344.1" y2="74.15" stroke="#555" stroke-width="0.7"/>
<text x="343.0" y="76.23" font-size="5.2" text-anchor="end" font-weight="normal" font-style="normal" fill="#222">0.001</text>
<line x1="343.0" y1="61.1" x2="344.1" y2="61.1" stroke="#555" stroke-width="0.7"/>
<text x="343.0" y="63.18" font-size="5.2" text-anchor="end" font-weight="normal" font-style="normal" fill="#222">0.002</text>
<line x1="343.0" y1="48.05" x2="344.1" y2="48.05" stroke="#555" stroke-width="0.7"/>
<text x="343.0" y="50.13" font-size="5.2" text-anchor="end" font-weight="normal" font-style="normal" fill="#222">0.003</text>
<line x1="343.0" y1="35.0" x2="344.1" y2="35.0" stroke="#555" stroke-width="0.7"/>
<text x="343.0" y="37.08" font-size="5.2" text-anchor="end" font-weight="normal" font-style="normal" fill="#222">0.004</text>
<line x1="343.0" y1="21.95" x2="344.1" y2="21.95" stroke="#555" stroke-width="0.7"/>
<text x="343.0" y="24.03" font-size="5.2" text-anchor="end" font-weight="normal" font-style="normal" fill="#222">0.005</text>
<line x1="344.1" y1="87.2" x2="400.2" y2="87.2" stroke="#555" stroke-width="0.7"/>
<line x1="359.1" y1="87.2" x2="359.1" y2="88.6" stroke="#555" stroke-width="0.7"/>
<line x1="385.7" y1="87.2" x2="385.7" y2="88.6" stroke="#555" stroke-width="0.7"/>
<rect x="348.2" y="61.3" width="22.5" height="25.9" fill="#a00000" stroke="#000" stroke-width="0.6"/>
<line x1="359.45" y1="57.5" x2="359.45" y2="64.3" stroke="#777" stroke-width="0.7"/>
<line x1="354.25" y1="57.5" x2="364.65" y2="57.5" stroke="#777" stroke-width="0.7"/>
<line x1="354.25" y1="64.3" x2="364.65" y2="64.3" stroke="#777" stroke-width="0.7"/>
<circle cx="359.3" cy="51.9" r="1.05" fill="#000"/>
<circle cx="357" cy="54.7" r="1.05" fill="#000"/>
<circle cx="361.6" cy="55.9" r="1.05" fill="#000"/>
<circle cx="357" cy="64.8" r="1.05" fill="#000"/>
<circle cx="361.6" cy="66.6" r="1.05" fill="#000"/>
<circle cx="359.3" cy="72.9" r="1.05" fill="#000"/>
<rect x="374.3" y="44.2" width="22.3" height="43.0" fill="#00008b" stroke="#000" stroke-width="0.6"/>
<line x1="385.45" y1="40.4" x2="385.45" y2="46.3" stroke="#777" stroke-width="0.7"/>
<line x1="380.25" y1="40.4" x2="390.65" y2="40.4" stroke="#777" stroke-width="0.7"/>
<line x1="380.25" y1="46.3" x2="390.65" y2="46.3" stroke="#777" stroke-width="0.7"/>
<circle cx="383.2" cy="36.4" r="1.05" fill="#000"/>
<circle cx="388.3" cy="38.1" r="1.05" fill="#000"/>
<circle cx="385.7" cy="43" r="1.05" fill="#000"/>
<circle cx="383.2" cy="50.6" r="1.05" fill="#000"/>
<circle cx="387.5" cy="49.3" r="1.05" fill="#000"/>
<polyline points="359.3,51 359.3,33.1 385.7,33.1 385.7,35.6" fill="none" stroke="#808080" stroke-width="0.7"/>
<path d="M370.15 28.45L370.15 31.75M368.72 29.28L371.58 30.93M368.72 30.93L371.58 29.28" stroke="#111" stroke-width="0.85" stroke-linecap="round" fill="none"/>
<circle cx="370.15" cy="30.1" r="1.0" fill="#000"/>
<path d="M374.85 28.45L374.85 31.75M373.42 29.28L376.28 30.93M373.42 30.93L376.28 29.28" stroke="#111" stroke-width="0.85" stroke-linecap="round" fill="none"/>
<circle cx="374.85" cy="30.1" r="1.0" fill="#000"/>
<text x="0" y="0" font-size="6.2" text-anchor="middle" font-weight="normal" font-style="normal" fill="#222" transform="translate(359.2 95.8) scale(1 1.12)" stroke="#222" stroke-width="0.12">Control</text>
<text x="0" y="0" font-size="6.2" text-anchor="middle" font-weight="normal" font-style="normal" fill="#222" transform="translate(385.5 95.8) scale(1 1.12)" stroke="#222" stroke-width="0.12">D35</text>
<text x="0" y="0" font-size="6.2" text-anchor="middle" font-weight="normal" font-style="italic" fill="#000" transform="translate(466.5 19.1) scale(1 1.12)" stroke="#000" stroke-width="0.12">Lama5</text>
<text x="0" y="0" font-size="6.2" text-anchor="middle" font-weight="normal" font-style="normal" fill="#222" transform="translate(413.9 55.4) rotate(-90) scale(1 1.12)" stroke="#222" stroke-width="0.12">Relative expression</text>
<text x="0" y="0" font-size="6.2" text-anchor="middle" font-weight="normal" font-style="normal" fill="#222" transform="translate(420.3 55.4) rotate(-90) scale(1 1.12)" stroke="#222" stroke-width="0.12">normalised to GAPDH</text>
<line x1="438.3" y1="22.65" x2="438.3" y2="86.7" stroke="#555" stroke-width="0.7"/>
<line x1="437.2" y1="86.7" x2="438.3" y2="86.7" stroke="#555" stroke-width="0.7"/>
<text x="437.2" y="88.78" font-size="5.2" text-anchor="end" font-weight="normal" font-style="normal" fill="#222">0.000</text>
<line x1="437.2" y1="65.35" x2="438.3" y2="65.35" stroke="#555" stroke-width="0.7"/>
<text x="437.2" y="67.43" font-size="5.2" text-anchor="end" font-weight="normal" font-style="normal" fill="#222">0.005</text>
<line x1="437.2" y1="44.0" x2="438.3" y2="44.0" stroke="#555" stroke-width="0.7"/>
<text x="437.2" y="46.08" font-size="5.2" text-anchor="end" font-weight="normal" font-style="normal" fill="#222">0.010</text>
<line x1="437.2" y1="22.65" x2="438.3" y2="22.65" stroke="#555" stroke-width="0.7"/>
<text x="437.2" y="24.73" font-size="5.2" text-anchor="end" font-weight="normal" font-style="normal" fill="#222">0.015</text>
<line x1="438.3" y1="86.7" x2="494" y2="86.7" stroke="#555" stroke-width="0.7"/>
<line x1="453.3" y1="86.7" x2="453.3" y2="88.1" stroke="#555" stroke-width="0.7"/>
<line x1="479.1" y1="86.7" x2="479.1" y2="88.1" stroke="#555" stroke-width="0.7"/>
<rect x="442.1" y="70.1" width="22.6" height="16.6" fill="#a00000" stroke="#000" stroke-width="0.6"/>
<line x1="453.4" y1="67.8" x2="453.4" y2="72.4" stroke="#777" stroke-width="0.7"/>
<line x1="448.2" y1="67.8" x2="458.6" y2="67.8" stroke="#777" stroke-width="0.7"/>
<line x1="448.2" y1="72.4" x2="458.6" y2="72.4" stroke="#777" stroke-width="0.7"/>
<circle cx="451.5" cy="68.5" r="1.05" fill="#000"/>
<circle cx="455.4" cy="69" r="1.05" fill="#000"/>
<circle cx="459.8" cy="69.2" r="1.05" fill="#000"/>
<circle cx="453.3" cy="74.7" r="1.05" fill="#000"/>
<rect x="468.0" y="52.9" width="22.3" height="33.8" fill="#00008b" stroke="#000" stroke-width="0.6"/>
<line x1="479.15" y1="47.3" x2="479.15" y2="57.2" stroke="#777" stroke-width="0.7"/>
<line x1="473.95" y1="47.3" x2="484.35" y2="47.3" stroke="#777" stroke-width="0.7"/>
<line x1="473.95" y1="57.2" x2="484.35" y2="57.2" stroke="#777" stroke-width="0.7"/>
<circle cx="479.1" cy="38.9" r="1.05" fill="#000"/>
<circle cx="479.1" cy="53.6" r="1.05" fill="#000"/>
<circle cx="479.1" cy="58.2" r="1.05" fill="#000"/>
<circle cx="479.1" cy="60" r="1.05" fill="#000"/>
<polyline points="453.4,65.8 453.4,35.4 479.4,35.4 479.4,37.4" fill="none" stroke="#808080" stroke-width="0.7"/>
<path d="M462.85 30.75L462.85 34.05M461.42 31.57L464.28 33.23M461.42 33.23L464.28 31.57" stroke="#111" stroke-width="0.85" stroke-linecap="round" fill="none"/>
<circle cx="462.85" cy="32.4" r="1.0" fill="#000"/>
<path d="M467.55 30.75L467.55 34.05M466.12 31.57L468.98 33.23M466.12 33.23L468.98 31.57" stroke="#111" stroke-width="0.85" stroke-linecap="round" fill="none"/>
<circle cx="467.55" cy="32.4" r="1.0" fill="#000"/>
<text x="0" y="0" font-size="6.2" text-anchor="middle" font-weight="normal" font-style="normal" fill="#222" transform="translate(453.1 95.5) scale(1 1.12)" stroke="#222" stroke-width="0.12">Control</text>
<text x="0" y="0" font-size="6.2" text-anchor="middle" font-weight="normal" font-style="normal" fill="#222" transform="translate(479.0 95.5) scale(1 1.12)" stroke="#222" stroke-width="0.12">D35</text>
<text x="0" y="0" font-size="6.2" text-anchor="middle" font-weight="normal" font-style="italic" fill="#000" transform="translate(423.8 103.4) scale(1 1.12)" stroke="#000" stroke-width="0.12">Cables2</text>
<text x="0" y="0" font-size="6.1" text-anchor="middle" font-weight="normal" font-style="normal" fill="#222" transform="translate(371.6 136.1) rotate(-90) scale(1 1.12)" stroke="#222" stroke-width="0.12">Relative expression</text>
<text x="0" y="0" font-size="6.1" text-anchor="middle" font-weight="normal" font-style="normal" fill="#222" transform="translate(378.6 136.1) rotate(-90) scale(1 1.12)" stroke="#222" stroke-width="0.12">normalised to GAPDH</text>
<line x1="395.9" y1="105.4" x2="395.9" y2="167.8" stroke="#555" stroke-width="0.7"/>
<line x1="394.8" y1="167.8" x2="395.9" y2="167.8" stroke="#555" stroke-width="0.7"/>
<text x="394.8" y="169.88" font-size="5.2" text-anchor="end" font-weight="normal" font-style="normal" fill="#222">0.000</text>
<line x1="394.8" y1="152.2" x2="395.9" y2="152.2" stroke="#555" stroke-width="0.7"/>
<text x="394.8" y="154.28" font-size="5.2" text-anchor="end" font-weight="normal" font-style="normal" fill="#222">0.001</text>
<line x1="394.8" y1="136.6" x2="395.9" y2="136.6" stroke="#555" stroke-width="0.7"/>
<text x="394.8" y="138.68" font-size="5.2" text-anchor="end" font-weight="normal" font-style="normal" fill="#222">0.002</text>
<line x1="394.8" y1="121.0" x2="395.9" y2="121.0" stroke="#555" stroke-width="0.7"/>
<text x="394.8" y="123.08" font-size="5.2" text-anchor="end" font-weight="normal" font-style="normal" fill="#222">0.003</text>
<line x1="394.8" y1="105.4" x2="395.9" y2="105.4" stroke="#555" stroke-width="0.7"/>
<text x="394.8" y="107.48" font-size="5.2" text-anchor="end" font-weight="normal" font-style="normal" fill="#222">0.004</text>
<line x1="395.9" y1="167.8" x2="451" y2="167.8" stroke="#555" stroke-width="0.7"/>
<line x1="410.3" y1="167.8" x2="410.3" y2="169.2" stroke="#555" stroke-width="0.7"/>
<line x1="436" y1="167.8" x2="436" y2="169.2" stroke="#555" stroke-width="0.7"/>
<rect x="399.0" y="138.9" width="22.6" height="28.9" fill="#a00000" stroke="#000" stroke-width="0.6"/>
<line x1="410.3" y1="134.3" x2="410.3" y2="142.4" stroke="#777" stroke-width="0.7"/>
<line x1="405.1" y1="134.3" x2="415.5" y2="134.3" stroke="#777" stroke-width="0.7"/>
<line x1="405.1" y1="142.4" x2="415.5" y2="142.4" stroke="#777" stroke-width="0.7"/>
<circle cx="408.2" cy="130.2" r="1.05" fill="#000"/>
<circle cx="412.7" cy="128.7" r="1.05" fill="#000"/>
<circle cx="410.4" cy="134.8" r="1.05" fill="#000"/>
<circle cx="408.2" cy="141.4" r="1.05" fill="#000"/>
<circle cx="412.7" cy="142.9" r="1.05" fill="#000"/>
<circle cx="410.4" cy="153.8" r="1.05" fill="#000"/>
<rect x="425.2" y="131.2" width="21.8" height="36.6" fill="#00008b" stroke="#000" stroke-width="0.6"/>
<line x1="436.1" y1="128.4" x2="436.1" y2="134.0" stroke="#777" stroke-width="0.7"/>
<line x1="430.9" y1="128.4" x2="441.3" y2="128.4" stroke="#777" stroke-width="0.7"/>
<line x1="430.9" y1="134.0" x2="441.3" y2="134.0" stroke="#777" stroke-width="0.7"/>
<circle cx="435.8" cy="120.6" r="1.05" fill="#000"/>
<circle cx="435.8" cy="126.9" r="1.05" fill="#000"/>
<circle cx="433.8" cy="134.8" r="1.05" fill="#000"/>
<circle cx="438.1" cy="134.8" r="1.05" fill="#000"/>
<circle cx="435.8" cy="139.6" r="1.05" fill="#000"/>
<text x="0" y="0" font-size="6.2" text-anchor="middle" font-weight="normal" font-style="normal" fill="#222" transform="translate(410.3 176.6) scale(1 1.12)" stroke="#222" stroke-width="0.12">Control</text>
<text x="0" y="0" font-size="6.2" text-anchor="middle" font-weight="normal" font-style="normal" fill="#222" transform="translate(435.7 176.6) scale(1 1.12)" stroke="#222" stroke-width="0.12">D35</text>
<text x="0" y="0" font-size="6.2" text-anchor="middle" font-weight="normal" font-style="italic" fill="#000" transform="translate(370.6 187.9) scale(1 1.12)" stroke="#000" stroke-width="0.12">Col6a3</text>
<text x="0" y="0" font-size="6.1" text-anchor="middle" font-weight="normal" font-style="normal" fill="#222" transform="translate(322.4 228.3) rotate(-90) scale(1 1.12)" stroke="#222" stroke-width="0.12">Relative expression</text>
<text x="0" y="0" font-size="6.1" text-anchor="middle" font-weight="normal" font-style="normal" fill="#222" transform="translate(329.8 228.6) rotate(-90) scale(1 1.12)" stroke="#222" stroke-width="0.12">normalised to GAPDH</text>
<line x1="342.0" y1="196.2" x2="342.0" y2="261.3" stroke="#555" stroke-width="0.7"/>
<line x1="340.9" y1="261.3" x2="342.0" y2="261.3" stroke="#555" stroke-width="0.7"/>
<text x="340.9" y="263.38" font-size="5.2" text-anchor="end" font-weight="normal" font-style="normal" fill="#222">0.0</text>
<line x1="340.9" y1="239.6" x2="342.0" y2="239.6" stroke="#555" stroke-width="0.7"/>
<text x="340.9" y="241.68" font-size="5.2" text-anchor="end" font-weight="normal" font-style="normal" fill="#222">0.2</text>
<line x1="340.9" y1="217.9" x2="342.0" y2="217.9" stroke="#555" stroke-width="0.7"/>
<text x="340.9" y="219.98" font-size="5.2" text-anchor="end" font-weight="normal" font-style="normal" fill="#222">0.4</text>
<line x1="340.9" y1="196.2" x2="342.0" y2="196.2" stroke="#555" stroke-width="0.7"/>
<text x="340.9" y="198.28" font-size="5.2" text-anchor="end" font-weight="normal" font-style="normal" fill="#222">0.6</text>
<line x1="342.0" y1="261.3" x2="396.3" y2="261.3" stroke="#555" stroke-width="0.7"/>
<line x1="357.2" y1="261.3" x2="357.2" y2="262.7" stroke="#555" stroke-width="0.7"/>
<line x1="383.4" y1="261.3" x2="383.4" y2="262.7" stroke="#555" stroke-width="0.7"/>
<rect x="346.0" y="253.9" width="22.3" height="7.4" fill="#a00000" stroke="#000" stroke-width="0.6"/>
<line x1="357.15" y1="252.4" x2="357.15" y2="255.4" stroke="#777" stroke-width="0.7"/>
<line x1="351.65" y1="252.4" x2="362.65" y2="252.4" stroke="#777" stroke-width="0.7"/>
<line x1="351.65" y1="255.4" x2="362.65" y2="255.4" stroke="#777" stroke-width="0.7"/>
<circle cx="354.9" cy="251.9" r="1.05" fill="#000"/>
<circle cx="359.2" cy="251.1" r="1.05" fill="#000"/>
<circle cx="357.2" cy="254.2" r="1.05" fill="#000"/>
<circle cx="357.2" cy="258" r="1.05" fill="#000"/>
<rect x="372.2" y="217.8" width="22.5" height="43.5" fill="#00008b" stroke="#000" stroke-width="0.6"/>
<line x1="383.45" y1="210.7" x2="383.45" y2="225.2" stroke="#777" stroke-width="0.7"/>
<line x1="377.95" y1="210.7" x2="388.95" y2="210.7" stroke="#777" stroke-width="0.7"/>
<line x1="377.95" y1="225.2" x2="388.95" y2="225.2" stroke="#777" stroke-width="0.7"/>
<circle cx="383.3" cy="203.6" r="1.05" fill="#000"/>
<circle cx="383.3" cy="208.2" r="1.05" fill="#000"/>
<circle cx="380.8" cy="230.5" r="1.05" fill="#000"/>
<circle cx="385.4" cy="229.8" r="1.05" fill="#000"/>
<polyline points="356.7,250.5 356.7,199.5 383.6,199.5 383.6,202.3" fill="none" stroke="#aaa" stroke-width="0.7"/>
<path d="M368.05 195.25L368.05 198.55M366.62 196.08L369.48 197.72M366.62 197.72L369.48 196.08" stroke="#111" stroke-width="0.85" stroke-linecap="round" fill="none"/>
<circle cx="368.05" cy="196.9" r="1.0" fill="#000"/>
<path d="M372.75 195.25L372.75 198.55M371.32 196.08L374.18 197.72M371.32 197.72L374.18 196.08" stroke="#111" stroke-width="0.85" stroke-linecap="round" fill="none"/>
<circle cx="372.75" cy="196.9" r="1.0" fill="#000"/>
<text x="0" y="0" font-size="6.2" text-anchor="middle" font-weight="normal" font-style="normal" fill="#222" transform="translate(357.3 269.9) scale(1 1.12)" stroke="#222" stroke-width="0.12">Control</text>
<text x="0" y="0" font-size="6.2" text-anchor="middle" font-weight="normal" font-style="normal" fill="#222" transform="translate(383.3 269.9) scale(1 1.12)" stroke="#222" stroke-width="0.12">D35</text>
<text x="0" y="0" font-size="6.2" text-anchor="middle" font-weight="normal" font-style="italic" fill="#000" transform="translate(463.1 187.6) scale(1 1.12)" stroke="#000" stroke-width="0.12">Col1a1</text>
<text x="0" y="0" font-size="6.1" text-anchor="middle" font-weight="normal" font-style="normal" fill="#222" transform="translate(411.1 228.8) rotate(-90) scale(1 1.12)" stroke="#222" stroke-width="0.12">Relative expression</text>
<text x="0" y="0" font-size="6.1" text-anchor="middle" font-weight="normal" font-style="normal" fill="#222" transform="translate(418.7 228.6) rotate(-90) scale(1 1.12)" stroke="#222" stroke-width="0.12">normalised to GAPDH</text>
<line x1="436.5" y1="197.92" x2="436.5" y2="260.8" stroke="#555" stroke-width="0.7"/>
<line x1="435.4" y1="260.8" x2="436.5" y2="260.8" stroke="#555" stroke-width="0.7"/>
<text x="435.4" y="262.88" font-size="5.2" text-anchor="end" font-weight="normal" font-style="normal" fill="#222">0.000</text>
<line x1="435.4" y1="245.08" x2="436.5" y2="245.08" stroke="#555" stroke-width="0.7"/>
<text x="435.4" y="247.16" font-size="5.2" text-anchor="end" font-weight="normal" font-style="normal" fill="#222">0.005</text>
<line x1="435.4" y1="229.36" x2="436.5" y2="229.36" stroke="#555" stroke-width="0.7"/>
<text x="435.4" y="231.44" font-size="5.2" text-anchor="end" font-weight="normal" font-style="normal" fill="#222">0.010</text>
<line x1="435.4" y1="213.64" x2="436.5" y2="213.64" stroke="#555" stroke-width="0.7"/>
<text x="435.4" y="215.72" font-size="5.2" text-anchor="end" font-weight="normal" font-style="normal" fill="#222">0.015</text>
<line x1="435.4" y1="197.92" x2="436.5" y2="197.92" stroke="#555" stroke-width="0.7"/>
<text x="435.4" y="200.0" font-size="5.2" text-anchor="end" font-weight="normal" font-style="normal" fill="#222">0.020</text>
<line x1="436.5" y1="260.8" x2="490.5" y2="260.8" stroke="#555" stroke-width="0.7"/>
<line x1="450.6" y1="260.8" x2="450.6" y2="262.2" stroke="#555" stroke-width="0.7"/>
<line x1="476" y1="260.8" x2="476" y2="262.2" stroke="#555" stroke-width="0.7"/>
<rect x="439.5" y="248.3" width="22.1" height="12.5" fill="#a00000" stroke="#000" stroke-width="0.6"/>
<line x1="450.55" y1="242.5" x2="450.55" y2="254.1" stroke="#777" stroke-width="0.7"/>
<line x1="445.35" y1="242.5" x2="455.75" y2="242.5" stroke="#777" stroke-width="0.7"/>
<line x1="445.35" y1="254.1" x2="455.75" y2="254.1" stroke="#777" stroke-width="0.7"/>
<circle cx="450.7" cy="231.8" r="1.05" fill="#000"/>
<circle cx="448.4" cy="251.6" r="1.05" fill="#000"/>
<circle cx="452.7" cy="253.4" r="1.05" fill="#000"/>
<circle cx="450.7" cy="256.2" r="1.05" fill="#000"/>
<rect x="465.2" y="229.0" width="21.8" height="31.8" fill="#00008b" stroke="#000" stroke-width="0.6"/>
<line x1="476.1" y1="221.4" x2="476.1" y2="237.1" stroke="#777" stroke-width="0.7"/>
<line x1="470.75" y1="221.4" x2="481.45" y2="221.4" stroke="#777" stroke-width="0.7"/>
<line x1="470.75" y1="237.1" x2="481.45" y2="237.1" stroke="#777" stroke-width="0.7"/>
<circle cx="475.8" cy="210.7" r="1.05" fill="#000"/>
<circle cx="475.8" cy="221.6" r="1.05" fill="#000"/>
<circle cx="475.8" cy="239.7" r="1.05" fill="#000"/>
<circle cx="475.8" cy="244.5" r="1.05" fill="#000"/>
<text x="0" y="0" font-size="6.2" text-anchor="middle" font-weight="normal" font-style="normal" fill="#222" transform="translate(450.5 269.4) scale(1 1.12)" stroke="#222" stroke-width="0.12">Control</text>
<text x="0" y="0" font-size="6.2" text-anchor="middle" font-weight="normal" font-style="normal" fill="#222" transform="translate(475.5 269.4) scale(1 1.12)" stroke="#222" stroke-width="0.12">D35</text>
<text x="0" y="0" font-size="6.2" text-anchor="middle" font-weight="normal" font-style="italic" fill="#000" transform="translate(562.6 12.9) scale(1 1.12)" stroke="#000" stroke-width="0.12">MTG2</text>
<text x="0" y="0" font-size="6.1" text-anchor="middle" font-weight="normal" font-style="normal" fill="#222" transform="translate(505.1 52.2) rotate(-90) scale(1 1.12)" stroke="#222" stroke-width="0.12">Relative expression</text>
<text x="0" y="0" font-size="6.1" text-anchor="middle" font-weight="normal" font-style="normal" fill="#222" transform="translate(512.2 52.4) rotate(-90) scale(1 1.12)" stroke="#222" stroke-width="0.12">normalised to GAPDH</text>
<line x1="538.4" y1="27.3" x2="538.4" y2="79.5" stroke="#555" stroke-width="0.7"/>
<line x1="536.6" y1="79.5" x2="538.4" y2="79.5" stroke="#555" stroke-width="0.7"/>
<text x="535.8" y="82.34" font-size="7.1" text-anchor="end" font-weight="normal" font-style="normal" fill="#222">0.000</text>
<line x1="536.6" y1="66.45" x2="538.4" y2="66.45" stroke="#555" stroke-width="0.7"/>
<text x="535.8" y="69.29" font-size="7.1" text-anchor="end" font-weight="normal" font-style="normal" fill="#222">0.005</text>
<line x1="536.6" y1="53.4" x2="538.4" y2="53.4" stroke="#555" stroke-width="0.7"/>
<text x="535.8" y="56.24" font-size="7.1" text-anchor="end" font-weight="normal" font-style="normal" fill="#222">0.010</text>
<line x1="536.6" y1="40.35" x2="538.4" y2="40.35" stroke="#555" stroke-width="0.7"/>
<text x="535.8" y="43.19" font-size="7.1" text-anchor="end" font-weight="normal" font-style="normal" fill="#222">0.015</text>
<line x1="536.6" y1="27.3" x2="538.4" y2="27.3" stroke="#555" stroke-width="0.7"/>
<text x="535.8" y="30.14" font-size="7.1" text-anchor="end" font-weight="normal" font-style="normal" fill="#222">0.020</text>
<line x1="538.4" y1="79.5" x2="586" y2="79.5" stroke="#555" stroke-width="0.7"/>
<line x1="550" y1="79.5" x2="550" y2="81.1" stroke="#555" stroke-width="0.7"/>
<line x1="574.2" y1="79.5" x2="574.2" y2="81.1" stroke="#555" stroke-width="0.7"/>
<rect x="542.2" y="51.0" width="15.4" height="28.5" fill="#a00000" stroke="#000" stroke-width="0.6"/>
<line x1="549.9" y1="47.5" x2="549.9" y2="51.0" stroke="#000" stroke-width="1.1"/>
<line x1="546.25" y1="47.5" x2="553.55" y2="47.5" stroke="#000" stroke-width="1.1"/>
<circle cx="549" cy="48.2" r="1.15" fill="#000"/>
<circle cx="551" cy="48.4" r="1.15" fill="#000"/>
<circle cx="550" cy="49.7" r="1.15" fill="#000"/>
<circle cx="550" cy="55.1" r="1.15" fill="#000"/>
<rect x="566.5" y="39.8" width="15.3" height="39.7" fill="#00008b" stroke="#000" stroke-width="0.6"/>
<line x1="574.15" y1="35.5" x2="574.15" y2="39.8" stroke="#000" stroke-width="1.1"/>
<line x1="570.3" y1="35.5" x2="578.0" y2="35.5" stroke="#000" stroke-width="1.1"/>
<circle cx="572.5" cy="36.3" r="1.15" fill="#000"/>
<circle cx="575.5" cy="36.3" r="1.15" fill="#000"/>
<circle cx="573.9" cy="39.1" r="1.15" fill="#000"/>
<circle cx="573.9" cy="44.9" r="1.15" fill="#000"/>
<polyline points="550,47 550,29.4 574.4,29.4 574.4,32.2" fill="none" stroke="#333" stroke-width="0.6"/>
<path d="M560.35 24.35L560.35 27.65M558.92 25.18L561.78 26.82M558.92 26.82L561.78 25.18" stroke="#111" stroke-width="0.85" stroke-linecap="round" fill="none"/>
<circle cx="560.35" cy="26.0" r="1.0" fill="#000"/>
<path d="M565.05 24.35L565.05 27.65M563.62 25.18L566.48 26.82M563.62 26.82L566.48 25.18" stroke="#111" stroke-width="0.85" stroke-linecap="round" fill="none"/>
<circle cx="565.05" cy="26.0" r="1.0" fill="#000"/>
<text x="552.4" y="85.5" font-size="6.4" text-anchor="end" font-weight="normal" font-style="normal" fill="#222" transform="rotate(-45 552.4 85.5)" stroke="#222" stroke-width="0.15">DMSO</text>
<text x="576.6" y="85.5" font-size="6.4" text-anchor="end" font-weight="normal" font-style="normal" fill="#222" transform="rotate(-45 576.6 85.5)" stroke="#222" stroke-width="0.15">RA</text>
<text x="0" y="0" font-size="6.2" text-anchor="middle" font-weight="normal" font-style="italic" fill="#000" transform="translate(659.2 13.4) scale(1 1.12)" stroke="#000" stroke-width="0.12">LAMA5</text>
<text x="0" y="0" font-size="6.1" text-anchor="middle" font-weight="normal" font-style="normal" fill="#222" transform="translate(600.9 52.2) rotate(-90) scale(1 1.12)" stroke="#222" stroke-width="0.12">Relative expression</text>
<text x="0" y="0" font-size="6.1" text-anchor="middle" font-weight="normal" font-style="normal" fill="#222" transform="translate(607.9 52.4) rotate(-90) scale(1 1.12)" stroke="#222" stroke-width="0.12">normalised to GAPDH</text>
<line x1="633.9" y1="25.75" x2="633.9" y2="79.1" stroke="#555" stroke-width="0.7"/>
<line x1="632.4" y1="79.1" x2="633.9" y2="79.1" stroke="#555" stroke-width="0.7"/>
<text x="632.6" y="82.02" font-size="7.3" text-anchor="end" font-weight="normal" font-style="normal" fill="#222">0.000</text>
<line x1="632.4" y1="68.43" x2="633.9" y2="68.43" stroke="#555" stroke-width="0.7"/>
<text x="632.6" y="71.35" font-size="7.3" text-anchor="end" font-weight="normal" font-style="normal" fill="#222">0.001</text>
<line x1="632.4" y1="57.76" x2="633.9" y2="57.76" stroke="#555" stroke-width="0.7"/>
<text x="632.6" y="60.68" font-size="7.3" text-anchor="end" font-weight="normal" font-style="normal" fill="#222">0.002</text>
<line x1="632.4" y1="47.09" x2="633.9" y2="47.09" stroke="#555" stroke-width="0.7"/>
<text x="632.6" y="50.01" font-size="7.3" text-anchor="end" font-weight="normal" font-style="normal" fill="#222">0.003</text>
<line x1="632.4" y1="36.42" x2="633.9" y2="36.42" stroke="#555" stroke-width="0.7"/>
<text x="632.6" y="39.34" font-size="7.3" text-anchor="end" font-weight="normal" font-style="normal" fill="#222">0.004</text>
<line x1="632.4" y1="25.75" x2="633.9" y2="25.75" stroke="#555" stroke-width="0.7"/>
<text x="632.6" y="28.67" font-size="7.3" text-anchor="end" font-weight="normal" font-style="normal" fill="#222">0.005</text>
<line x1="633.9" y1="79.1" x2="682" y2="79.1" stroke="#555" stroke-width="0.7"/>
<line x1="646.8" y1="79.1" x2="646.8" y2="80.7" stroke="#555" stroke-width="0.7"/>
<line x1="670.6" y1="79.1" x2="670.6" y2="80.7" stroke="#555" stroke-width="0.7"/>
<rect x="639.1" y="65.2" width="15.3" height="13.9" fill="#a00000" stroke="#000" stroke-width="0.6"/>
<line x1="646.75" y1="61.4" x2="646.75" y2="65.2" stroke="#000" stroke-width="1.1"/>
<line x1="643.45" y1="61.4" x2="650.05" y2="61.4" stroke="#000" stroke-width="1.1"/>
<circle cx="646.8" cy="61" r="1.15" fill="#000"/>
<circle cx="646.8" cy="66" r="1.15" fill="#000"/>
<circle cx="646.8" cy="70.5" r="1.15" fill="#000"/>
<rect x="663.0" y="54.0" width="15.0" height="25.1" fill="#00008b" stroke="#000" stroke-width="0.6"/>
<line x1="670.5" y1="45.2" x2="670.5" y2="54.0" stroke="#000" stroke-width="1.1"/>
<line x1="666.55" y1="45.2" x2="674.45" y2="45.2" stroke="#000" stroke-width="1.1"/>
<circle cx="670.6" cy="45.2" r="1.15" fill="#000"/>
<circle cx="670.6" cy="46.6" r="1.15" fill="#000"/>
<circle cx="670.6" cy="61.2" r="1.15" fill="#000"/>
<polyline points="646.8,58 646.8,38.6 670.9,38.6 670.9,41.9" fill="none" stroke="#333" stroke-width="0.6"/>
<path d="M658.4 34.25L658.4 37.55M656.97 35.07L659.83 36.73M656.97 36.73L659.83 35.07" stroke="#111" stroke-width="0.85" stroke-linecap="round" fill="none"/>
<circle cx="658.4" cy="35.9" r="1.0" fill="#000"/>
<text x="649.2" y="85.1" font-size="6.4" text-anchor="end" font-weight="normal" font-style="normal" fill="#222" transform="rotate(-45 649.2 85.1)" stroke="#222" stroke-width="0.15">DMSO</text>
<text x="673.0" y="85.1" font-size="6.4" text-anchor="end" font-weight="normal" font-style="normal" fill="#222" transform="rotate(-45 673.0 85.1)" stroke="#222" stroke-width="0.15">RA</text>
<text x="0" y="0" font-size="6.1" text-anchor="middle" font-weight="normal" font-style="italic" fill="#000" transform="translate(608 108.7) scale(1 1.12)" stroke="#000" stroke-width="0.12">CABLES2</text>
<text x="0" y="0" font-size="6.1" text-anchor="middle" font-weight="normal" font-style="normal" fill="#222" transform="translate(549.4 139.4) rotate(-90) scale(1 1.12)" stroke="#222" stroke-width="0.12">Relative expression</text>
<text x="0" y="0" font-size="6.1" text-anchor="middle" font-weight="normal" font-style="normal" fill="#222" transform="translate(556.8 139.9) rotate(-90) scale(1 1.12)" stroke="#222" stroke-width="0.12">normalised to GAPDH</text>
<line x1="582.3" y1="114.6" x2="582.3" y2="167.1" stroke="#555" stroke-width="0.7"/>
<line x1="580.8" y1="167.1" x2="582.3" y2="167.1" stroke="#555" stroke-width="0.7"/>
<text x="581.1" y="170.1" font-size="7.5" text-anchor="end" font-weight="normal" font-style="normal" fill="#222">0.000</text>
<line x1="580.8" y1="149.6" x2="582.3" y2="149.6" stroke="#555" stroke-width="0.7"/>
<text x="581.1" y="152.6" font-size="7.5" text-anchor="end" font-weight="normal" font-style="normal" fill="#222">0.001</text>
<line x1="580.8" y1="132.1" x2="582.3" y2="132.1" stroke="#555" stroke-width="0.7"/>
<text x="581.1" y="135.1" font-size="7.5" text-anchor="end" font-weight="normal" font-style="normal" fill="#222">0.002</text>
<line x1="580.8" y1="114.6" x2="582.3" y2="114.6" stroke="#555" stroke-width="0.7"/>
<text x="581.1" y="117.6" font-size="7.5" text-anchor="end" font-weight="normal" font-style="normal" fill="#222">0.003</text>
<line x1="582.3" y1="167.1" x2="630.5" y2="167.1" stroke="#555" stroke-width="0.7"/>
<line x1="594.6" y1="167.1" x2="594.6" y2="168.7" stroke="#555" stroke-width="0.7"/>
<line x1="618.3" y1="167.1" x2="618.3" y2="168.7" stroke="#555" stroke-width="0.7"/>
<rect x="587.5" y="135.3" width="14.4" height="31.8" fill="#a00000" stroke="#000" stroke-width="0.6"/>
<line x1="594.7" y1="127.7" x2="594.7" y2="135.3" stroke="#000" stroke-width="1.1"/>
<line x1="590.7" y1="127.7" x2="598.7" y2="127.7" stroke="#000" stroke-width="1.1"/>
<circle cx="592.5" cy="128" r="1.15" fill="#000"/>
<circle cx="596.5" cy="128" r="1.15" fill="#000"/>
<circle cx="594.6" cy="139.4" r="1.15" fill="#000"/>
<circle cx="594.6" cy="142.7" r="1.15" fill="#000"/>
<rect x="610.8" y="133.0" width="15.0" height="34.1" fill="#00008b" stroke="#000" stroke-width="0.6"/>
<line x1="618.3" y1="128.2" x2="618.3" y2="133.0" stroke="#000" stroke-width="1.1"/>
<line x1="614.2" y1="128.2" x2="622.4" y2="128.2" stroke="#000" stroke-width="1.1"/>
<circle cx="618.4" cy="128.5" r="1.15" fill="#000"/>
<circle cx="618.4" cy="133" r="1.15" fill="#000"/>
<circle cx="618.4" cy="139.1" r="1.15" fill="#000"/>
<text x="597.0" y="173.1" font-size="6.4" text-anchor="end" font-weight="normal" font-style="normal" fill="#222" transform="rotate(-45 597.0 173.1)" stroke="#222" stroke-width="0.15">DMSO</text>
<text x="620.7" y="173.1" font-size="6.4" text-anchor="end" font-weight="normal" font-style="normal" fill="#222" transform="rotate(-45 620.7 173.1)" stroke="#222" stroke-width="0.15">RA</text>
<text x="0" y="0" font-size="6.0" text-anchor="middle" font-weight="normal" font-style="italic" fill="#000" transform="translate(570.3 199.9) scale(1 1.12)" stroke="#000" stroke-width="0.12">COL9A3</text>
<text x="0" y="0" font-size="6.1" text-anchor="middle" font-weight="normal" font-style="normal" fill="#222" transform="translate(506.2 233) rotate(-90) scale(1 1.12)" stroke="#222" stroke-width="0.12">Relative expression</text>
<text x="0" y="0" font-size="6.1" text-anchor="middle" font-weight="normal" font-style="normal" fill="#222" transform="translate(513.2 233.2) rotate(-90) scale(1 1.12)" stroke="#222" stroke-width="0.12">normalised to GAPDH</text>
<line x1="547.6" y1="206.8" x2="547.6" y2="259.8" stroke="#555" stroke-width="0.7"/>
<line x1="545.8" y1="259.8" x2="547.6" y2="259.8" stroke="#555" stroke-width="0.7"/>
<text x="545.0" y="262.76" font-size="7.4" text-anchor="end" font-weight="normal" font-style="normal" fill="#222">0.00000</text>
<line x1="545.8" y1="249.2" x2="547.6" y2="249.2" stroke="#555" stroke-width="0.7"/>
<text x="545.0" y="252.16" font-size="7.4" text-anchor="end" font-weight="normal" font-style="normal" fill="#222">0.00005</text>
<line x1="545.8" y1="238.6" x2="547.6" y2="238.6" stroke="#555" stroke-width="0.7"/>
<text x="545.0" y="241.56" font-size="7.4" text-anchor="end" font-weight="normal" font-style="normal" fill="#222">0.00010</text>
<line x1="545.8" y1="228.0" x2="547.6" y2="228.0" stroke="#555" stroke-width="0.7"/>
<text x="545.0" y="230.96" font-size="7.4" text-anchor="end" font-weight="normal" font-style="normal" fill="#222">0.00015</text>
<line x1="545.8" y1="217.4" x2="547.6" y2="217.4" stroke="#555" stroke-width="0.7"/>
<text x="545.0" y="220.36" font-size="7.4" text-anchor="end" font-weight="normal" font-style="normal" fill="#222">0.00020</text>
<line x1="545.8" y1="206.8" x2="547.6" y2="206.8" stroke="#555" stroke-width="0.7"/>
<text x="545.0" y="209.76" font-size="7.4" text-anchor="end" font-weight="normal" font-style="normal" fill="#222">0.00025</text>
<line x1="547.6" y1="259.8" x2="593.8" y2="259.8" stroke="#555" stroke-width="0.7"/>
<line x1="559.4" y1="259.8" x2="559.4" y2="261.4" stroke="#555" stroke-width="0.7"/>
<line x1="582.3" y1="259.8" x2="582.3" y2="261.4" stroke="#555" stroke-width="0.7"/>
<rect x="552.1" y="246.6" width="14.7" height="13.2" fill="#a00000" stroke="#000" stroke-width="0.6"/>
<line x1="559.45" y1="244.9" x2="559.45" y2="246.6" stroke="#000" stroke-width="1.1"/>
<line x1="556.2" y1="244.9" x2="562.7" y2="244.9" stroke="#000" stroke-width="1.1"/>
<circle cx="557.7" cy="245.7" r="1.15" fill="#000"/>
<circle cx="561.1" cy="245.7" r="1.15" fill="#000"/>
<circle cx="559.4" cy="247.4" r="1.15" fill="#000"/>
<rect x="575.5" y="234.5" width="14.1" height="25.3" fill="#00008b" stroke="#000" stroke-width="0.6"/>
<line x1="582.55" y1="223" x2="582.55" y2="234.5" stroke="#000" stroke-width="1.1"/>
<line x1="578.75" y1="223" x2="586.35" y2="223" stroke="#000" stroke-width="1.1"/>
<circle cx="582.3" cy="217.6" r="1.15" fill="#000"/>
<circle cx="580.6" cy="239" r="1.15" fill="#000"/>
<circle cx="583.9" cy="239" r="1.15" fill="#000"/>
<circle cx="582.3" cy="240.6" r="1.15" fill="#000"/>
<text x="561.8" y="265.8" font-size="6.4" text-anchor="end" font-weight="normal" font-style="normal" fill="#222" transform="rotate(-45 561.8 265.8)" stroke="#222" stroke-width="0.15">DMSO</text>
<text x="584.7" y="265.8" font-size="6.4" text-anchor="end" font-weight="normal" font-style="normal" fill="#222" transform="rotate(-45 584.7 265.8)" stroke="#222" stroke-width="0.15">RA</text>
<text x="0" y="0" font-size="6.1" text-anchor="middle" font-weight="normal" font-style="italic" fill="#000" transform="translate(660.5 198.3) scale(1 1.12)" stroke="#000" stroke-width="0.12">COL1A1</text>
<text x="0" y="0" font-size="6.1" text-anchor="middle" font-weight="normal" font-style="normal" fill="#222" transform="translate(601.5 232.3) rotate(-90) scale(1 1.12)" stroke="#222" stroke-width="0.12">Relative expression</text>
<text x="0" y="0" font-size="6.1" text-anchor="middle" font-weight="normal" font-style="normal" fill="#222" transform="translate(609.1 232.9) rotate(-90) scale(1 1.12)" stroke="#222" stroke-width="0.12">normalised to GAPDH</text>
<line x1="636.3" y1="207.4" x2="636.3" y2="259.8" stroke="#555" stroke-width="0.7"/>
<line x1="634.8" y1="259.8" x2="636.3" y2="259.8" stroke="#555" stroke-width="0.7"/>
<text x="634.8" y="262.8" font-size="7.5" text-anchor="end" font-weight="normal" font-style="normal" fill="#222">0.000</text>
<line x1="634.8" y1="246.7" x2="636.3" y2="246.7" stroke="#555" stroke-width="0.7"/>
<text x="634.8" y="249.7" font-size="7.5" text-anchor="end" font-weight="normal" font-style="normal" fill="#222">0.002</text>
<line x1="634.8" y1="233.6" x2="636.3" y2="233.6" stroke="#555" stroke-width="0.7"/>
<text x="634.8" y="236.6" font-size="7.5" text-anchor="end" font-weight="normal" font-style="normal" fill="#222">0.004</text>
<line x1="634.8" y1="220.5" x2="636.3" y2="220.5" stroke="#555" stroke-width="0.7"/>
<text x="634.8" y="223.5" font-size="7.5" text-anchor="end" font-weight="normal" font-style="normal" fill="#222">0.006</text>
<line x1="634.8" y1="207.4" x2="636.3" y2="207.4" stroke="#555" stroke-width="0.7"/>
<text x="634.8" y="210.4" font-size="7.5" text-anchor="end" font-weight="normal" font-style="normal" fill="#222">0.008</text>
<line x1="636.3" y1="259.8" x2="683.5" y2="259.8" stroke="#555" stroke-width="0.7"/>
<line x1="648.1" y1="259.8" x2="648.1" y2="261.4" stroke="#555" stroke-width="0.7"/>
<line x1="672" y1="259.8" x2="672" y2="261.4" stroke="#555" stroke-width="0.7"/>
<rect x="640.6" y="231.9" width="15.0" height="27.9" fill="#a00000" stroke="#000" stroke-width="0.6"/>
<line x1="648.1" y1="224.4" x2="648.1" y2="231.9" stroke="#000" stroke-width="1.1"/>
<line x1="644.35" y1="224.4" x2="651.85" y2="224.4" stroke="#000" stroke-width="1.1"/>
<circle cx="648.1" cy="225.5" r="1.15" fill="#000"/>
<circle cx="648.1" cy="235.7" r="1.15" fill="#000"/>
<circle cx="648.1" cy="239.7" r="1.15" fill="#000"/>
<rect x="664.4" y="233.2" width="15.3" height="26.6" fill="#00008b" stroke="#000" stroke-width="0.6"/>
<line x1="672.05" y1="225.7" x2="672.05" y2="233.2" stroke="#000" stroke-width="1.1"/>
<line x1="668.4" y1="225.7" x2="675.7" y2="225.7" stroke="#000" stroke-width="1.1"/>
<circle cx="670.6" cy="226.6" r="1.15" fill="#000"/>
<circle cx="674" cy="226.6" r="1.15" fill="#000"/>
<circle cx="671.9" cy="236.7" r="1.15" fill="#000"/>
<circle cx="671.9" cy="241" r="1.15" fill="#000"/>
<text x="650.5" y="265.8" font-size="6.4" text-anchor="end" font-weight="normal" font-style="normal" fill="#222" transform="rotate(-45 650.5 265.8)" stroke="#222" stroke-width="0.15">DMSO</text>
<text x="674.4" y="265.8" font-size="6.4" text-anchor="end" font-weight="normal" font-style="normal" fill="#222" transform="rotate(-45 674.4 265.8)" stroke="#222" stroke-width="0.15">RA</text>
</svg></body></html>
